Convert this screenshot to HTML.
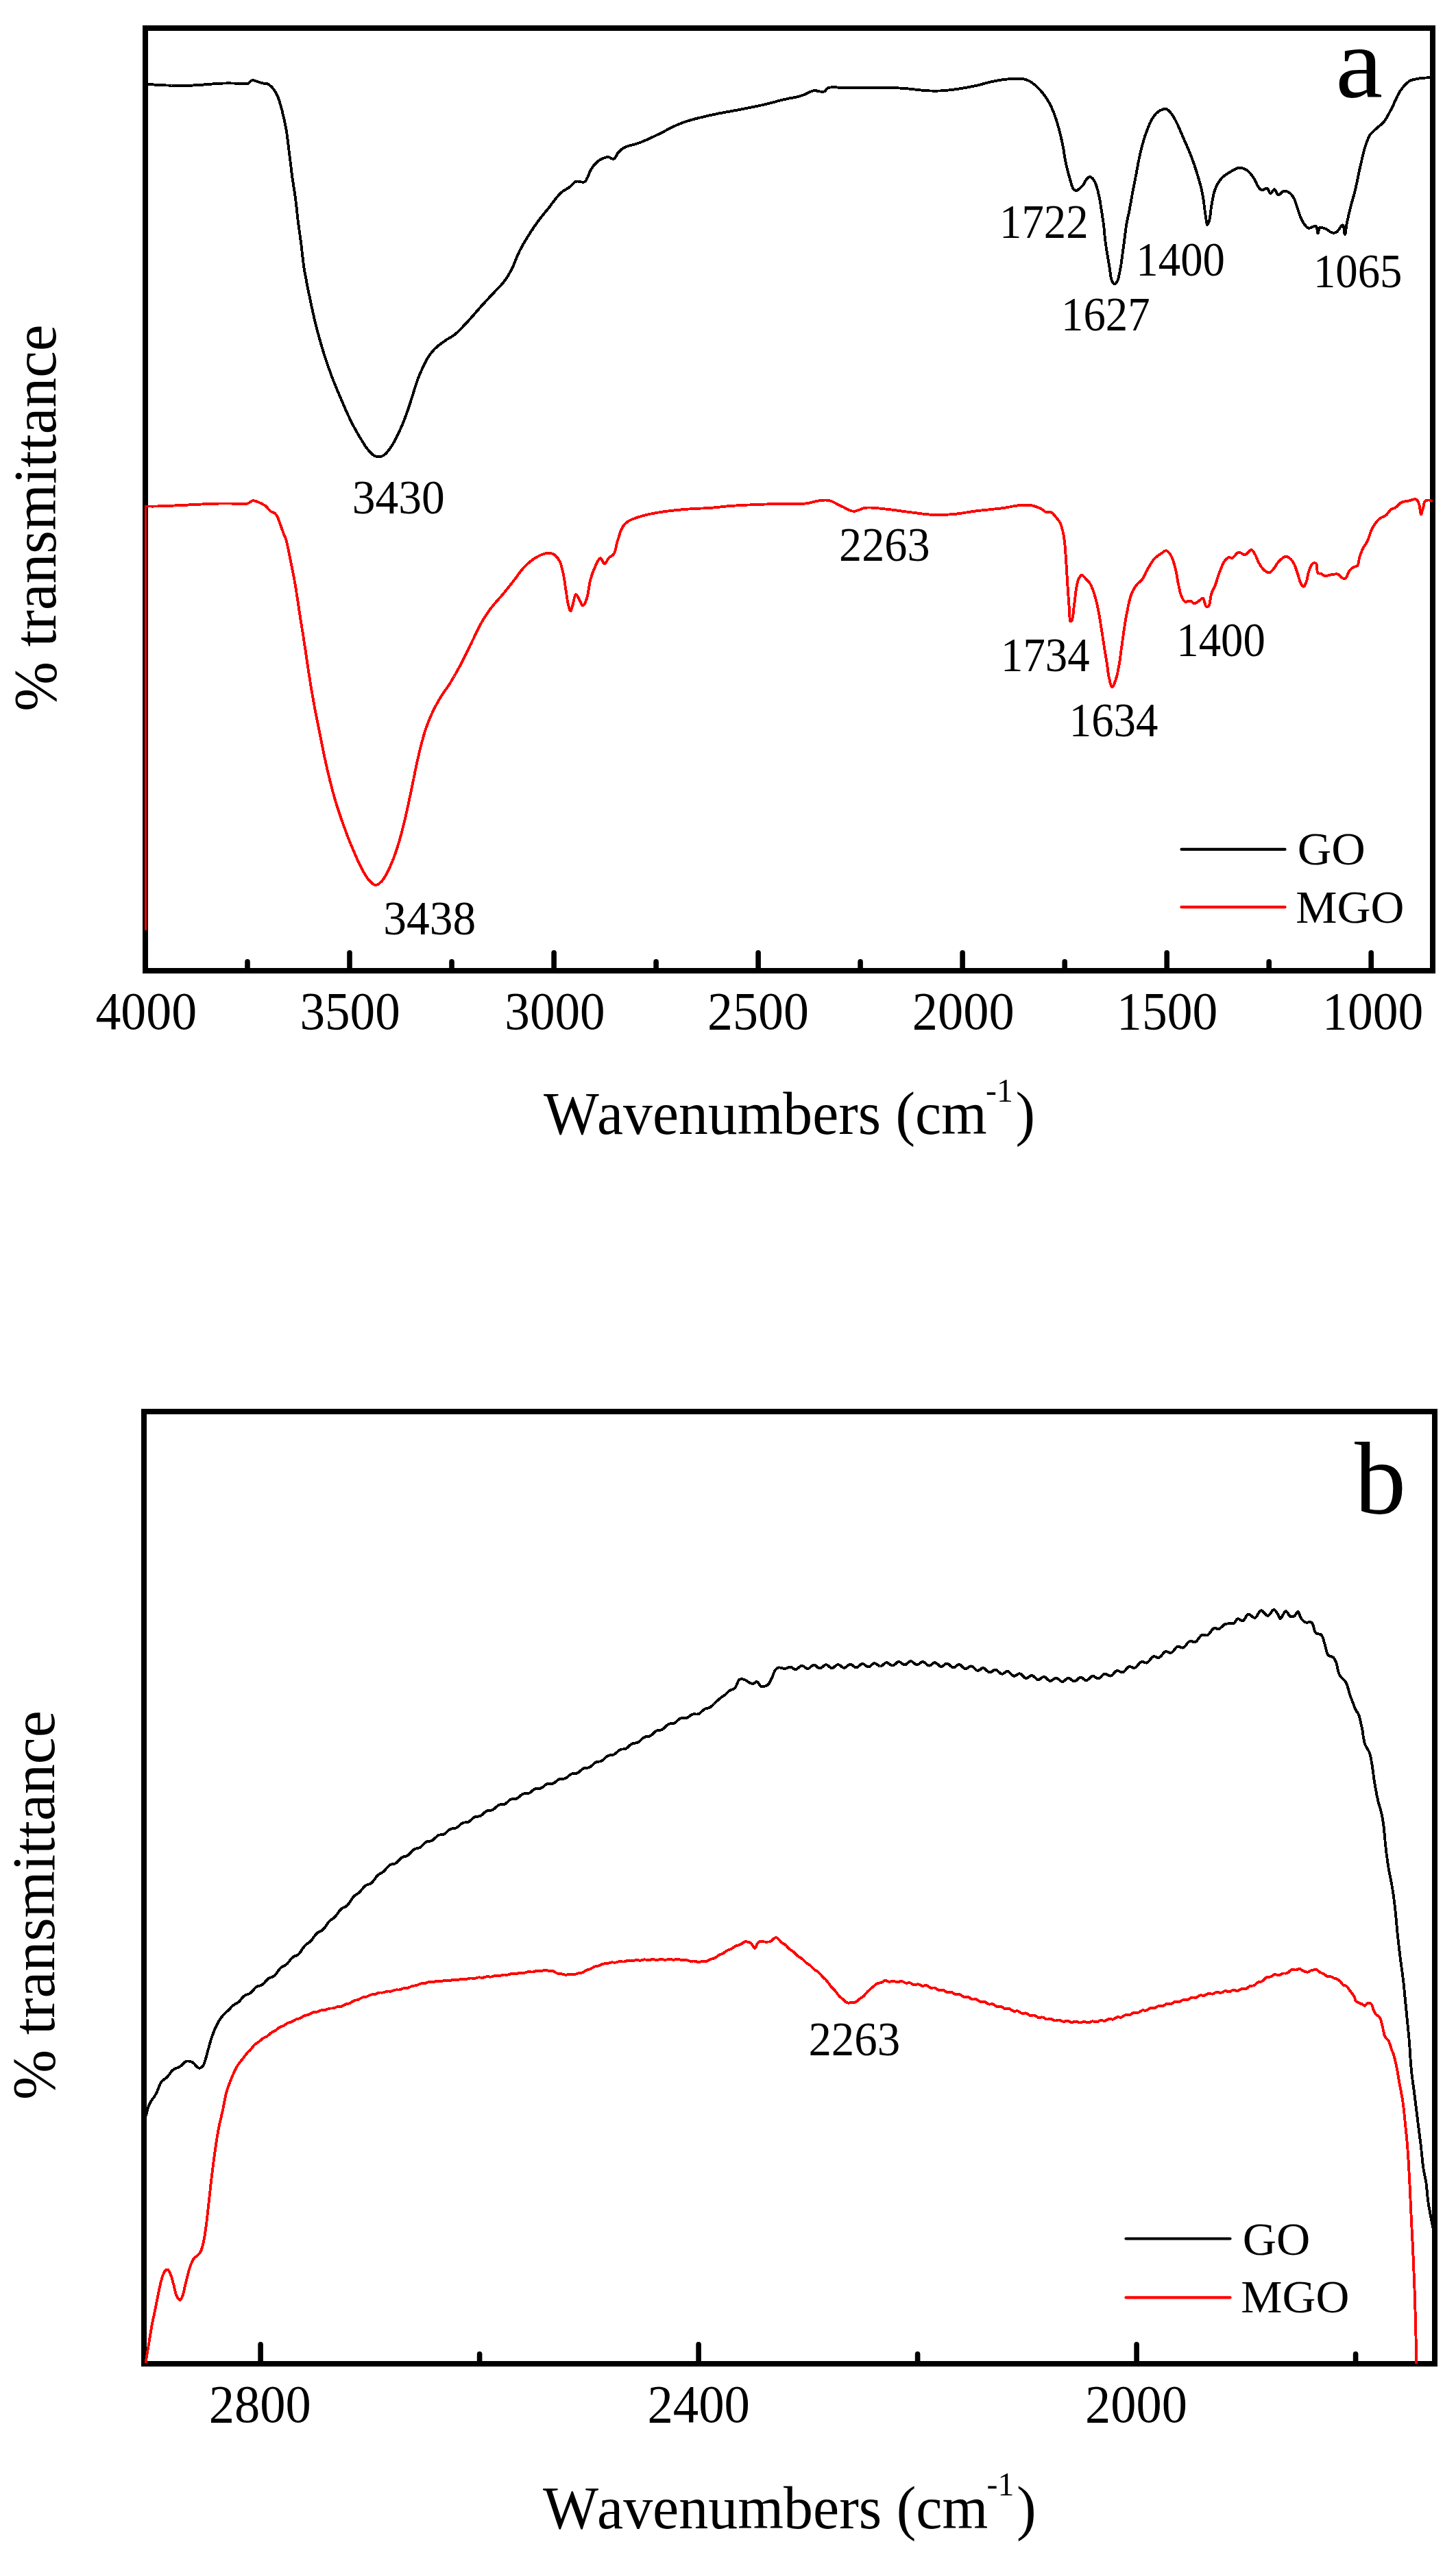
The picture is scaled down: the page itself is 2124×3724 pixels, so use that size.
<!DOCTYPE html><html><head><meta charset="utf-8"><title>FTIR spectra of GO and MGO</title>
<style>html,body{margin:0;padding:0;background:#fff}svg{display:block}text{font-family:"Liberation Serif","Times New Roman",serif;font-kerning:none;white-space:pre}</style></head><body>
<svg width="2124" height="3724" viewBox="0 0 2124 3724">
<rect width="2124" height="3724" fill="#fff"/>
<path d="M215.9 123.0L217.8 123.1L219.7 123.2L221.7 123.3L223.6 123.4L225.5 123.6L227.4 123.7L229.3 123.8L231.2 123.9L233.1 124.0L235.1 124.1L237.0 124.2L238.9 124.3L240.9 124.4L242.8 124.5L244.7 124.5L246.7 124.6L248.6 124.6L250.5 124.7L252.4 124.7L254.3 124.8L256.1 124.8L258.0 124.8L259.9 124.8L261.8 124.9L263.7 124.9L265.6 124.9L267.6 124.8L269.5 124.8L271.5 124.8L273.5 124.8L275.6 124.7L277.6 124.7L279.7 124.6L281.5 124.5L283.4 124.4L285.2 124.3L287.2 124.2L289.1 124.1L291.1 124.0L293.2 123.8L295.2 123.7L297.2 123.5L299.3 123.3L301.4 123.2L303.4 123.0L305.5 122.8L307.5 122.7L309.6 122.5L311.6 122.4L313.6 122.2L315.5 122.1L317.4 121.9L319.3 121.8L321.2 121.7L323.0 121.6L324.7 121.6L326.4 121.5L328.7 121.5L330.9 121.4L333.1 121.4L335.2 121.4L337.4 121.5L339.4 121.5L341.5 121.5L343.4 121.6L345.3 121.6L347.1 121.7L348.8 121.7L350.5 121.8L352.0 121.8L354.3 121.9L356.5 122.0L358.5 122.1L360.2 122.1L361.5 121.9L362.5 121.3L363.2 120.6L364.3 119.5L365.5 118.4L367.0 117.5L368.5 117.0L369.7 117.2L371.0 117.6L372.7 118.1L374.6 118.7L376.2 119.2L378.0 119.8L379.9 120.4L381.8 120.9L383.6 121.4L385.4 121.7L387.1 121.8L388.8 122.0L390.4 122.5L391.9 123.3L393.3 124.2L394.6 125.4L395.9 126.6L397.1 127.8L398.2 129.1L399.3 130.5L400.4 132.0L401.4 133.5L402.3 135.1L403.2 136.7L404.0 138.3L404.8 140.0L405.5 141.7L406.1 143.3L406.7 144.9L407.3 146.6L407.8 148.2L408.3 149.9L408.8 151.7L409.4 153.4L409.9 155.3L410.4 157.3L411.0 159.5L411.4 161.0L411.8 162.6L412.2 164.2L412.6 166.0L413.1 167.8L413.5 169.7L414.0 171.6L414.4 173.6L414.9 175.7L415.3 177.7L415.8 179.8L416.2 182.0L416.6 184.1L417.0 186.2L417.3 188.0L417.6 189.8L417.9 191.6L418.2 193.5L418.5 195.5L418.8 197.4L419.0 199.4L419.3 201.4L419.6 203.5L419.8 205.5L420.1 207.5L420.3 209.6L420.6 211.6L420.8 213.7L421.1 215.7L421.3 217.7L421.5 219.7L421.8 221.7L422.0 223.6L422.3 225.5L422.5 227.4L422.8 229.4L423.0 231.5L423.3 233.5L423.5 235.5L423.7 237.4L424.0 239.4L424.2 241.4L424.5 243.3L424.7 245.2L424.9 247.2L425.1 249.1L425.4 251.0L425.6 252.8L425.9 254.7L426.1 256.6L426.3 258.4L426.6 260.3L426.9 262.3L427.2 264.3L427.5 266.3L427.8 268.2L428.1 270.2L428.4 272.1L428.7 274.0L429.0 275.9L429.3 277.8L429.6 279.7L429.9 281.7L430.2 283.7L430.5 285.7L430.8 287.8L431.0 289.7L431.3 291.6L431.5 293.5L431.8 295.5L432.0 297.5L432.2 299.5L432.4 301.5L432.7 303.5L432.9 305.5L433.1 307.6L433.3 309.6L433.5 311.6L433.8 313.7L434.0 315.7L434.2 317.7L434.4 319.6L434.7 321.6L434.9 323.5L435.1 325.5L435.4 327.4L435.7 329.3L435.9 331.2L436.2 333.1L436.4 334.9L436.7 336.8L436.9 338.6L437.2 340.5L437.5 342.3L437.7 344.2L438.0 346.1L438.2 348.0L438.5 349.8L438.7 351.8L439.0 353.7L439.2 355.6L439.5 357.5L439.7 359.5L439.9 361.5L440.2 363.5L440.4 365.6L440.6 367.6L440.9 369.7L441.1 371.7L441.3 373.7L441.6 375.7L441.8 377.7L442.0 379.6L442.2 381.4L442.5 383.2L442.7 384.9L442.9 386.5L443.1 388.0L443.4 390.2L443.7 392.0L444.0 393.7L444.2 395.4L444.5 397.1L444.9 399.0L445.3 401.2L445.6 402.6L445.8 404.1L446.1 405.7L446.5 407.3L446.8 409.1L447.1 410.9L447.5 412.7L447.9 414.6L448.3 416.6L448.7 418.6L449.1 420.6L449.5 422.6L449.9 424.6L450.3 426.7L450.7 428.7L451.1 430.8L451.6 432.8L452.0 434.8L452.4 436.8L452.8 438.7L453.2 440.6L453.6 442.4L454.0 444.3L454.4 446.3L454.8 448.2L455.3 450.1L455.7 452.0L456.1 453.8L456.5 455.7L456.9 457.6L457.3 459.4L457.7 461.3L458.2 463.1L458.6 465.0L459.0 466.8L459.5 468.7L459.9 470.6L460.4 472.4L460.8 474.3L461.3 476.2L461.8 478.1L462.3 479.9L462.7 481.7L463.2 483.6L463.7 485.4L464.2 487.2L464.7 489.1L465.2 490.9L465.7 492.8L466.2 494.6L466.8 496.5L467.3 498.3L467.8 500.2L468.4 502.0L468.9 503.9L469.5 505.7L470.0 507.5L470.6 509.4L471.1 511.2L471.7 513.0L472.2 514.8L472.8 516.6L473.4 518.5L474.0 520.4L474.6 522.3L475.3 524.3L475.9 526.2L476.5 528.1L477.2 530.0L477.8 531.8L478.5 533.7L479.1 535.6L479.8 537.5L480.4 539.4L481.1 541.2L481.8 543.1L482.4 544.9L483.1 546.8L483.8 548.6L484.5 550.5L485.2 552.3L485.9 554.2L486.6 556.1L487.4 557.9L488.1 559.8L488.9 561.6L489.6 563.5L490.4 565.3L491.1 567.2L491.9 569.0L492.7 570.8L493.5 572.7L494.2 574.5L495.0 576.3L495.8 578.1L496.6 579.9L497.3 581.7L498.1 583.5L498.9 585.3L499.7 587.1L500.5 588.9L501.3 590.8L502.1 592.6L502.9 594.4L503.6 596.2L504.4 598.0L505.2 599.8L506.0 601.6L506.8 603.4L507.6 605.2L508.5 606.9L509.3 608.7L510.1 610.4L510.9 612.1L511.8 613.8L512.6 615.5L513.5 617.2L514.4 619.0L515.3 620.7L516.2 622.4L517.1 624.2L518.1 625.9L519.0 627.5L519.9 629.2L520.9 630.9L521.8 632.5L522.7 634.1L523.7 635.7L524.6 637.2L525.5 638.7L526.4 640.2L527.5 642.0L528.6 643.9L529.7 645.7L530.8 647.4L531.9 649.1L533.0 650.8L534.1 652.4L535.2 653.9L536.3 655.4L537.4 656.7L538.8 658.3L540.1 659.8L541.5 661.2L542.9 662.5L544.2 663.5L545.6 664.4L547.1 665.1L548.6 665.6L550.0 665.9L551.6 666.0L553.5 666.0L555.4 665.8L557.4 665.3L559.3 664.4L560.6 663.6L561.8 662.5L563.1 661.3L564.3 660.0L565.5 658.6L566.7 657.1L567.9 655.5L569.0 654.0L570.0 652.6L571.0 651.1L572.0 649.5L573.0 647.9L573.9 646.3L574.9 644.6L575.8 642.9L576.7 641.1L577.7 639.3L578.6 637.5L579.4 635.9L580.2 634.3L581.0 632.6L581.8 630.9L582.6 629.1L583.4 627.3L584.2 625.6L585.0 623.7L585.8 621.9L586.6 620.1L587.4 618.2L588.1 616.4L588.9 614.5L589.6 612.7L590.3 610.9L591.0 609.1L591.6 607.4L592.3 605.6L592.9 603.8L593.6 601.9L594.2 600.1L594.9 598.3L595.5 596.5L596.1 594.6L596.7 592.8L597.3 590.9L598.0 589.0L598.6 587.2L599.2 585.3L599.8 583.4L600.4 581.5L601.0 579.6L601.6 577.7L602.2 575.7L602.8 573.7L603.4 571.8L604.0 569.8L604.6 567.8L605.2 565.9L605.8 564.0L606.4 562.1L607.0 560.3L607.6 558.4L608.2 556.7L608.8 555.0L609.5 553.1L610.2 551.2L611.0 549.4L611.7 547.6L612.4 545.9L613.1 544.2L613.9 542.5L614.6 540.8L615.4 539.2L616.2 537.5L617.0 535.8L617.8 534.1L618.6 532.4L619.5 530.7L620.3 529.0L621.2 527.3L622.0 525.7L622.9 524.0L623.8 522.4L624.7 520.9L625.6 519.4L626.6 518.0L627.7 516.4L628.9 515.0L630.0 513.5L631.2 512.2L632.4 510.9L633.6 509.6L634.9 508.3L636.3 507.0L637.7 505.8L639.1 504.5L640.6 503.3L642.1 502.2L643.7 501.0L645.3 499.8L646.9 498.7L648.4 497.6L650.0 496.5L651.5 495.5L653.0 494.5L654.5 493.6L656.1 492.7L657.6 491.8L659.1 490.9L660.6 489.9L662.2 488.9L663.7 487.7L665.1 486.6L666.4 485.4L667.8 484.1L669.1 482.9L670.5 481.5L671.8 480.1L673.2 478.7L674.6 477.3L675.9 475.8L677.3 474.3L678.8 472.8L680.2 471.3L681.4 470.0L682.7 468.6L684.0 467.2L685.3 465.8L686.6 464.3L687.9 462.8L689.2 461.3L690.6 459.8L691.9 458.2L693.2 456.7L694.6 455.2L695.9 453.7L697.2 452.2L698.5 450.7L699.7 449.3L701.0 447.9L702.2 446.5L703.5 445.0L704.9 443.6L706.2 442.2L707.4 440.8L708.7 439.4L710.0 438.1L711.2 436.7L712.5 435.4L713.7 434.1L714.9 432.7L716.2 431.4L717.4 430.1L718.7 428.7L720.0 427.3L721.3 426.0L722.6 424.6L723.9 423.2L725.3 421.9L726.6 420.5L727.9 419.2L729.2 417.8L730.5 416.4L731.7 415.0L732.9 413.6L734.1 412.2L735.2 410.8L736.4 409.2L737.5 407.7L738.5 406.2L739.5 404.6L740.5 403.1L741.5 401.5L742.4 399.9L743.3 398.3L744.3 396.6L745.2 394.8L746.2 393.0L747.0 391.5L747.7 389.9L748.5 388.3L749.2 386.7L749.9 385.0L750.6 383.3L751.3 381.6L752.0 379.8L752.7 378.1L753.5 376.3L754.2 374.5L755.0 372.7L755.8 370.9L756.6 369.1L757.4 367.3L758.3 365.5L759.2 363.7L760.1 362.0L761.0 360.4L761.9 358.7L762.9 356.9L763.9 355.2L764.9 353.4L766.0 351.7L767.0 349.9L768.1 348.2L769.2 346.4L770.3 344.6L771.4 342.9L772.5 341.1L773.6 339.4L774.7 337.7L775.8 336.0L776.9 334.4L778.0 332.7L779.1 331.1L780.1 329.5L781.2 328.0L782.4 326.3L783.6 324.6L784.8 323.0L786.0 321.4L787.2 319.8L788.4 318.2L789.6 316.7L790.8 315.2L792.0 313.7L793.2 312.2L794.4 310.7L795.6 309.2L796.8 307.7L798.0 306.3L799.2 304.8L800.4 303.3L801.6 301.8L802.8 300.2L804.0 298.6L805.2 297.0L806.4 295.4L807.6 293.8L808.8 292.2L810.0 290.7L811.2 289.1L812.4 287.7L813.6 286.3L814.8 284.9L816.0 283.6L817.1 282.4L818.3 281.3L819.9 280.0L821.5 278.8L823.1 277.7L824.7 276.8L826.2 275.9L827.8 275.0L829.3 274.0L830.7 273.0L832.1 271.8L833.5 270.4L834.8 269.1L836.1 267.7L837.4 266.5L838.8 265.5L840.3 264.8L842.0 264.5L843.8 264.6L845.8 265.0L847.7 265.4L849.6 265.7L851.2 265.7L852.6 265.4L854.0 264.3L855.0 262.9L855.9 261.1L856.8 259.3L857.6 257.8L858.3 256.1L859.0 254.3L859.7 252.4L860.4 250.6L861.3 248.7L862.3 247.0L863.3 245.5L864.3 244.0L865.4 242.5L866.6 241.0L867.8 239.6L869.1 238.2L870.4 236.9L871.8 235.7L873.2 234.6L874.8 233.5L876.5 232.6L878.3 231.6L880.1 230.8L881.9 230.1L883.7 229.6L885.4 229.2L887.0 229.1L888.8 229.4L890.5 230.3L892.2 231.2L893.7 231.9L895.2 231.9L896.5 231.1L897.6 229.6L898.7 227.8L899.7 225.9L900.8 223.9L902.1 222.3L903.3 221.1L904.5 219.9L905.8 218.8L907.1 217.7L908.5 216.7L910.0 215.7L911.7 214.8L913.2 214.1L914.9 213.5L916.6 212.9L918.4 212.4L920.3 211.9L922.3 211.4L924.3 210.9L926.3 210.4L928.3 209.8L930.3 209.2L932.3 208.5L933.9 207.9L935.6 207.2L937.2 206.5L938.9 205.8L940.7 205.1L942.4 204.3L944.1 203.6L945.9 202.8L947.6 202.0L949.4 201.1L951.1 200.3L952.9 199.5L954.6 198.7L956.4 197.8L958.1 197.0L959.8 196.2L961.5 195.4L963.3 194.5L965.0 193.6L966.8 192.7L968.6 191.8L970.3 190.9L972.1 189.9L973.8 189.0L975.6 188.1L977.3 187.2L979.0 186.3L980.7 185.5L982.4 184.6L984.1 183.9L985.7 183.1L987.3 182.4L989.1 181.6L990.9 180.9L992.6 180.2L994.2 179.6L995.9 179.0L997.5 178.4L999.2 177.8L1000.9 177.3L1002.7 176.7L1004.5 176.1L1006.5 175.5L1008.1 175.0L1009.8 174.6L1011.5 174.1L1013.2 173.6L1015.0 173.1L1016.8 172.7L1018.7 172.2L1020.6 171.7L1022.5 171.3L1024.4 170.8L1026.4 170.3L1028.4 169.9L1030.3 169.4L1032.3 169.0L1034.3 168.5L1036.3 168.1L1038.3 167.7L1040.2 167.2L1042.2 166.8L1044.1 166.4L1046.0 166.0L1047.9 165.6L1049.9 165.2L1051.8 164.9L1053.8 164.5L1055.8 164.1L1057.8 163.8L1059.8 163.4L1061.8 163.1L1063.8 162.7L1065.8 162.4L1067.7 162.0L1069.7 161.6L1071.7 161.3L1073.7 160.9L1075.7 160.6L1077.6 160.2L1079.6 159.8L1081.5 159.5L1083.4 159.1L1085.4 158.7L1087.4 158.3L1089.4 157.9L1091.4 157.5L1093.4 157.1L1095.4 156.7L1097.4 156.3L1099.4 155.8L1101.3 155.4L1103.3 155.0L1105.2 154.6L1107.2 154.2L1109.1 153.8L1111.0 153.4L1112.8 152.9L1114.7 152.5L1116.5 152.1L1118.3 151.7L1120.0 151.3L1122.0 150.8L1124.0 150.3L1125.9 149.8L1127.8 149.3L1129.7 148.8L1131.5 148.3L1133.3 147.8L1135.1 147.3L1136.9 146.9L1138.7 146.4L1140.5 145.9L1142.3 145.4L1144.2 145.0L1146.1 144.6L1147.9 144.2L1149.8 143.8L1151.7 143.4L1153.6 143.1L1155.5 142.7L1157.4 142.4L1159.3 142.0L1161.2 141.6L1163.0 141.2L1164.8 140.8L1166.6 140.3L1168.4 139.8L1170.3 139.2L1172.3 138.4L1174.2 137.5L1176.2 136.6L1178.1 135.7L1180.0 134.8L1181.8 134.0L1183.5 133.3L1185.1 132.7L1186.6 132.2L1188.0 132.0L1189.7 132.1L1191.1 132.4L1192.5 132.9L1194.0 133.2L1195.8 133.4L1197.7 133.6L1199.7 133.7L1201.5 133.6L1203.1 133.2L1204.3 132.2L1205.1 130.9L1206.1 129.5L1207.6 128.4L1208.7 128.0L1210.0 127.7L1211.5 127.5L1213.1 127.4L1214.9 127.3L1216.7 127.3L1218.7 127.4L1220.8 127.4L1222.9 127.6L1225.1 127.7L1227.4 127.8L1229.7 128.0L1232.0 128.1L1234.2 128.2L1236.5 128.3L1238.7 128.4L1240.9 128.4L1242.7 128.4L1244.5 128.4L1246.4 128.3L1248.2 128.3L1250.2 128.3L1252.1 128.2L1254.1 128.2L1256.1 128.1L1258.1 128.1L1260.1 128.0L1262.1 128.0L1264.2 128.0L1266.2 127.9L1268.2 127.9L1270.3 127.8L1272.3 127.8L1274.3 127.8L1276.2 127.7L1278.2 127.7L1280.1 127.7L1282.0 127.7L1283.9 127.7L1285.7 127.7L1287.5 127.7L1289.2 127.7L1291.3 127.7L1293.3 127.8L1295.3 127.8L1297.3 127.9L1299.2 127.9L1301.1 128.0L1302.9 128.1L1304.8 128.1L1306.6 128.2L1308.5 128.3L1310.3 128.4L1312.1 128.5L1313.9 128.6L1315.8 128.7L1317.6 128.9L1319.5 129.0L1321.4 129.1L1323.3 129.3L1325.3 129.5L1327.2 129.7L1329.2 129.9L1331.2 130.1L1333.1 130.3L1335.1 130.6L1337.0 130.8L1338.9 131.0L1340.8 131.2L1342.7 131.4L1344.5 131.6L1346.3 131.7L1348.0 131.9L1349.7 132.0L1351.7 132.1L1353.6 132.3L1355.4 132.4L1357.1 132.5L1358.9 132.5L1360.6 132.6L1362.3 132.6L1364.1 132.6L1365.9 132.6L1367.8 132.6L1369.5 132.5L1371.3 132.5L1373.1 132.4L1374.9 132.3L1376.7 132.1L1378.6 132.0L1380.5 131.8L1382.3 131.6L1384.3 131.4L1386.2 131.2L1388.1 131.0L1390.0 130.7L1392.0 130.5L1393.8 130.3L1395.6 130.0L1397.5 129.7L1399.4 129.4L1401.3 129.1L1403.2 128.8L1405.2 128.5L1407.1 128.2L1409.1 127.8L1411.0 127.5L1412.9 127.1L1414.8 126.8L1416.7 126.4L1418.6 126.0L1420.4 125.7L1422.2 125.3L1424.2 124.9L1426.1 124.4L1428.0 124.0L1429.9 123.5L1431.8 123.0L1433.6 122.5L1435.5 122.0L1437.3 121.5L1439.2 121.0L1441.0 120.6L1442.8 120.1L1444.6 119.7L1446.4 119.3L1448.4 118.9L1450.3 118.5L1452.2 118.1L1454.1 117.7L1456.0 117.4L1457.9 117.0L1459.8 116.7L1461.7 116.4L1463.6 116.2L1465.5 115.9L1467.5 115.7L1469.3 115.5L1471.2 115.3L1473.2 115.2L1475.1 115.0L1477.1 114.9L1479.1 114.7L1481.1 114.6L1483.1 114.6L1485.0 114.6L1486.8 114.6L1488.5 114.7L1490.2 114.8L1491.7 115.0L1493.8 115.4L1495.6 115.9L1497.4 116.4L1499.0 117.1L1500.6 117.8L1502.3 118.7L1503.9 119.6L1505.4 120.6L1507.0 121.8L1508.5 123.0L1510.0 124.2L1511.5 125.5L1512.9 126.8L1514.3 128.1L1515.6 129.5L1517.0 130.9L1518.2 132.4L1519.5 133.9L1520.8 135.4L1522.0 137.0L1523.1 138.4L1524.1 139.8L1525.1 141.3L1526.2 142.8L1527.2 144.4L1528.2 145.9L1529.1 147.5L1530.1 149.1L1531.0 150.8L1531.9 152.4L1532.7 154.1L1533.5 155.8L1534.3 157.5L1535.1 159.3L1535.8 161.1L1536.6 162.9L1537.3 164.7L1538.0 166.5L1538.7 168.4L1539.3 170.1L1539.9 171.9L1540.5 173.6L1541.1 175.4L1541.6 177.3L1542.2 179.1L1542.7 180.9L1543.3 182.8L1543.8 184.7L1544.3 186.5L1544.8 188.4L1545.3 190.3L1545.8 192.1L1546.2 194.0L1546.7 195.8L1547.2 197.7L1547.6 199.6L1548.0 201.5L1548.5 203.4L1548.9 205.3L1549.3 207.2L1549.7 209.0L1550.1 210.9L1550.4 212.7L1550.8 214.5L1551.2 216.4L1551.5 218.2L1551.8 220.0L1552.0 221.7L1552.3 223.5L1552.5 225.2L1552.8 227.0L1553.1 228.8L1553.4 230.6L1553.7 232.4L1554.1 234.3L1554.5 236.1L1554.9 237.9L1555.3 239.9L1555.8 241.8L1556.2 243.8L1556.7 245.8L1557.2 247.7L1557.7 249.7L1558.2 251.7L1558.7 253.6L1559.2 255.5L1559.7 257.3L1560.2 259.0L1560.7 260.7L1561.3 262.7L1561.8 264.7L1562.4 266.7L1562.9 268.7L1563.5 270.5L1564.1 272.2L1564.7 273.7L1565.4 275.0L1566.2 276.0L1567.6 277.1L1569.0 277.7L1570.5 277.8L1572.0 277.3L1573.4 276.2L1574.9 275.0L1576.3 273.8L1577.7 272.5L1579.1 271.0L1580.4 269.5L1581.3 268.0L1582.2 266.4L1583.0 264.7L1583.8 263.1L1584.8 261.8L1586.0 260.5L1587.3 259.3L1588.6 258.3L1589.9 258.0L1591.4 258.5L1593.0 259.6L1594.5 261.2L1595.8 262.9L1596.7 264.4L1597.6 266.1L1598.3 267.9L1598.9 269.9L1599.6 271.8L1600.2 273.8L1600.8 275.6L1601.3 277.4L1601.7 279.2L1602.2 281.1L1602.6 283.0L1603.1 285.0L1603.5 287.0L1603.8 288.6L1604.1 290.3L1604.5 292.1L1604.8 293.9L1605.1 295.7L1605.4 297.5L1605.6 299.3L1605.9 301.2L1606.2 303.1L1606.5 304.9L1606.8 306.8L1607.1 308.6L1607.4 310.4L1607.7 312.2L1608.0 314.0L1608.2 315.9L1608.5 317.7L1608.8 319.6L1609.1 321.4L1609.4 323.3L1609.6 325.1L1609.9 327.0L1610.1 328.8L1610.3 330.6L1610.5 332.5L1610.7 334.3L1610.9 336.1L1611.0 338.0L1611.2 339.8L1611.4 341.6L1611.5 343.5L1611.7 345.3L1611.9 347.1L1612.1 349.0L1612.3 350.8L1612.5 352.6L1612.8 354.5L1613.0 356.3L1613.3 358.2L1613.6 360.0L1613.9 361.8L1614.2 363.7L1614.4 365.5L1614.7 367.3L1615.0 369.1L1615.3 370.9L1615.6 372.7L1615.9 374.5L1616.2 376.4L1616.5 378.2L1616.8 380.0L1617.1 381.8L1617.4 383.6L1617.7 385.4L1618.0 387.2L1618.3 389.0L1618.6 390.7L1618.9 392.5L1619.2 394.6L1619.5 396.7L1619.8 398.9L1620.1 401.1L1620.4 403.2L1620.8 405.2L1621.2 407.1L1621.6 408.7L1622.2 410.1L1623.4 412.2L1624.8 413.9L1626.2 414.5L1627.5 413.8L1628.7 412.2L1629.9 410.1L1630.5 408.9L1631.0 407.5L1631.5 405.9L1631.9 404.2L1632.3 402.4L1632.7 400.5L1633.1 398.5L1633.5 396.5L1633.9 394.5L1634.3 392.5L1634.6 390.8L1634.9 389.1L1635.2 387.3L1635.5 385.5L1635.8 383.6L1636.1 381.7L1636.3 379.7L1636.6 377.8L1636.9 375.8L1637.1 373.8L1637.4 371.8L1637.6 369.8L1637.9 367.8L1638.2 365.8L1638.4 363.8L1638.7 361.8L1639.0 359.9L1639.2 357.9L1639.5 356.0L1639.7 354.0L1640.0 352.0L1640.2 350.0L1640.5 348.0L1640.7 346.0L1641.0 344.0L1641.2 342.0L1641.5 340.0L1641.7 338.0L1642.0 336.1L1642.3 334.2L1642.5 332.4L1642.8 330.6L1643.1 328.8L1643.4 326.8L1643.8 324.9L1644.2 323.0L1644.5 321.2L1644.9 319.4L1645.3 317.6L1645.6 315.8L1646.0 314.0L1646.4 312.3L1646.8 310.5L1647.1 308.7L1647.5 306.8L1647.8 305.0L1648.2 303.2L1648.5 301.3L1648.8 299.5L1649.2 297.7L1649.5 295.8L1649.8 294.0L1650.2 292.1L1650.5 290.2L1650.8 288.3L1651.2 286.4L1651.5 284.5L1651.9 282.6L1652.2 280.8L1652.6 278.9L1652.9 277.1L1653.3 275.2L1653.7 273.3L1654.0 271.5L1654.4 269.6L1654.7 267.7L1655.1 265.8L1655.5 263.8L1655.9 261.9L1656.2 260.0L1656.6 258.0L1657.0 256.1L1657.4 254.1L1657.8 252.2L1658.1 250.3L1658.5 248.4L1658.9 246.4L1659.2 244.4L1659.6 242.5L1660.0 240.5L1660.3 238.5L1660.7 236.5L1661.1 234.5L1661.5 232.6L1661.9 230.6L1662.3 228.6L1662.7 226.7L1663.1 224.8L1663.6 222.9L1664.0 221.1L1664.5 219.1L1665.0 217.1L1665.5 215.2L1666.0 213.3L1666.5 211.4L1667.0 209.5L1667.5 207.6L1668.0 205.7L1668.6 203.9L1669.1 202.0L1669.7 200.2L1670.3 198.3L1670.9 196.5L1671.6 194.7L1672.3 192.9L1673.0 191.0L1673.7 189.2L1674.4 187.3L1675.2 185.4L1676.0 183.5L1676.7 181.6L1677.5 179.8L1678.4 178.1L1679.2 176.4L1680.0 174.8L1680.9 173.2L1681.7 171.8L1682.6 170.5L1683.8 168.9L1685.0 167.4L1686.2 166.0L1687.4 164.8L1688.7 163.7L1690.0 162.7L1691.4 161.8L1693.0 160.9L1694.7 160.2L1696.4 159.5L1698.1 159.1L1699.8 158.9L1701.3 159.1L1702.7 159.7L1704.1 160.6L1705.4 161.8L1706.6 163.2L1707.8 164.7L1709.0 166.2L1710.1 167.6L1711.1 169.1L1712.0 170.6L1713.0 172.3L1713.9 174.0L1714.9 175.7L1715.8 177.5L1716.7 179.3L1717.5 180.9L1718.3 182.5L1719.0 184.2L1719.8 185.9L1720.5 187.6L1721.2 189.4L1722.0 191.2L1722.7 193.0L1723.6 194.9L1724.4 196.9L1725.1 198.5L1725.8 200.1L1726.6 201.8L1727.3 203.5L1728.1 205.3L1728.9 207.1L1729.7 208.9L1730.5 210.7L1731.3 212.6L1732.2 214.5L1733.0 216.4L1733.8 218.3L1734.6 220.2L1735.4 222.1L1736.1 224.0L1736.9 225.8L1737.6 227.7L1738.3 229.5L1739.0 231.3L1739.6 233.2L1740.3 235.0L1741.0 236.9L1741.6 238.8L1742.3 240.7L1742.9 242.6L1743.5 244.5L1744.2 246.4L1744.8 248.3L1745.4 250.1L1745.9 252.0L1746.5 253.8L1747.1 255.6L1747.6 257.3L1748.1 259.0L1748.6 260.7L1749.2 262.7L1749.7 264.5L1750.2 266.4L1750.7 268.2L1751.2 269.9L1751.6 271.7L1752.1 273.4L1752.5 275.2L1752.9 276.9L1753.3 278.8L1753.7 280.6L1754.1 282.6L1754.4 284.4L1754.8 286.3L1755.1 288.2L1755.4 290.2L1755.7 292.2L1755.9 294.3L1756.2 296.3L1756.5 298.4L1756.7 300.4L1757.0 302.5L1757.2 304.5L1757.5 306.4L1757.7 308.3L1758.0 310.1L1758.2 311.8L1758.5 313.4L1758.8 315.6L1759.2 318.0L1759.5 320.4L1759.8 322.6L1760.1 324.6L1760.5 326.2L1760.9 327.3L1761.3 327.7L1761.9 327.2L1762.6 325.9L1763.4 324.1L1764.0 322.2L1764.4 320.9L1764.7 319.4L1765.0 317.8L1765.2 316.0L1765.5 314.1L1765.7 312.2L1765.9 310.2L1766.2 308.2L1766.4 306.1L1766.7 304.1L1767.0 302.1L1767.3 300.2L1767.6 298.4L1768.0 296.5L1768.3 294.5L1768.6 292.6L1769.0 290.7L1769.3 288.7L1769.7 286.8L1770.1 284.9L1770.6 283.0L1771.0 281.2L1771.5 279.4L1772.1 277.6L1772.7 276.0L1773.5 274.1L1774.3 272.2L1775.2 270.4L1776.1 268.6L1777.0 266.9L1778.1 265.2L1779.1 263.7L1780.3 262.1L1781.5 260.7L1782.8 259.4L1784.1 258.1L1785.5 256.9L1787.0 255.8L1788.5 254.7L1790.1 253.7L1791.6 252.7L1793.2 251.7L1794.7 250.8L1796.3 249.8L1797.9 248.8L1799.5 247.9L1801.2 247.0L1802.8 246.2L1804.4 245.5L1806.0 245.0L1807.6 244.8L1809.5 244.8L1811.4 245.1L1813.3 245.6L1815.1 246.3L1816.9 247.1L1818.6 248.1L1820.0 249.1L1821.3 250.2L1822.6 251.5L1823.9 253.0L1825.1 254.4L1826.3 256.0L1827.4 257.5L1828.5 259.1L1829.5 260.6L1830.4 262.3L1831.2 264.0L1832.1 265.8L1832.9 267.6L1833.7 269.3L1834.5 270.8L1835.3 272.2L1836.2 273.4L1837.5 274.8L1838.8 276.1L1840.2 277.0L1841.6 277.4L1843.2 277.0L1845.0 275.8L1846.7 274.8L1848.2 274.5L1849.4 275.5L1850.4 277.4L1851.3 279.6L1852.2 281.4L1853.3 282.2L1854.4 281.6L1855.6 280.2L1856.8 278.4L1858.1 276.9L1859.2 276.3L1860.3 277.2L1861.4 279.1L1862.4 281.4L1863.5 283.4L1864.7 284.4L1866.1 284.0L1867.6 282.8L1869.2 281.2L1870.8 279.7L1872.4 278.9L1874.1 278.7L1875.7 278.9L1877.4 279.3L1879.0 280.0L1880.4 280.8L1881.7 281.9L1883.1 283.2L1884.4 284.6L1885.6 286.1L1886.7 287.7L1887.6 289.2L1888.4 290.9L1889.1 292.7L1889.8 294.5L1890.4 296.4L1891.0 298.3L1891.6 300.2L1892.2 302.0L1892.9 303.9L1893.5 305.8L1894.1 307.8L1894.7 309.7L1895.3 311.6L1895.9 313.4L1896.6 315.2L1897.3 316.9L1898.0 318.6L1898.7 320.2L1899.5 321.8L1900.3 323.4L1901.2 324.8L1902.1 326.2L1903.3 327.8L1904.5 329.4L1905.7 330.8L1907.1 332.0L1908.7 332.7L1910.4 332.7L1912.4 332.1L1914.5 331.2L1916.5 330.4L1918.3 329.9L1919.7 330.1L1920.6 331.3L1921.2 333.4L1921.6 335.7L1921.8 338.0L1922.1 339.7L1922.5 340.4L1922.9 339.7L1923.3 337.9L1923.7 335.6L1924.3 333.6L1925.2 332.3L1926.6 331.9L1928.3 332.0L1930.2 332.5L1932.2 333.1L1934.0 333.8L1935.5 334.6L1937.0 335.6L1938.4 336.7L1939.9 337.8L1941.3 338.7L1942.7 339.3L1944.4 339.6L1946.0 339.7L1947.7 339.5L1949.3 338.9L1950.5 338.0L1951.8 336.5L1953.2 334.8L1954.5 332.9L1955.7 331.1L1956.9 329.6L1957.9 328.6L1958.8 328.4L1959.6 329.3L1960.2 331.3L1960.6 334.0L1960.9 336.8L1961.2 339.4L1961.5 341.3L1961.9 342.0L1962.2 341.6L1962.5 340.7L1962.8 339.2L1963.1 337.3L1963.4 335.2L1963.7 332.9L1964.0 330.5L1964.3 328.3L1964.7 326.2L1965.0 324.5L1965.4 322.8L1965.8 321.0L1966.2 319.1L1966.6 317.3L1967.0 315.4L1967.5 313.4L1967.9 311.5L1968.4 309.6L1968.8 307.7L1969.3 305.8L1969.7 303.9L1970.2 302.0L1970.7 300.1L1971.2 298.3L1971.7 296.5L1972.2 294.6L1972.7 292.8L1973.2 291.0L1973.7 289.2L1974.3 287.3L1974.8 285.5L1975.3 283.6L1975.8 281.7L1976.3 279.8L1976.8 277.8L1977.2 276.0L1977.7 274.1L1978.1 272.3L1978.5 270.4L1978.9 268.5L1979.3 266.6L1979.7 264.7L1980.1 262.8L1980.5 260.8L1980.8 258.9L1981.3 256.9L1981.7 254.9L1982.1 252.9L1982.5 251.0L1982.9 249.0L1983.4 247.0L1983.8 245.2L1984.2 243.3L1984.7 241.4L1985.1 239.5L1985.6 237.5L1986.0 235.6L1986.5 233.6L1986.9 231.6L1987.4 229.6L1987.9 227.7L1988.3 225.7L1988.8 223.8L1989.3 222.0L1989.8 220.1L1990.2 218.4L1990.7 216.6L1991.2 215.0L1991.7 213.4L1992.2 211.9L1992.9 209.9L1993.6 207.9L1994.2 206.1L1994.9 204.3L1995.6 202.6L1996.3 201.0L1997.1 199.4L1997.9 197.9L1998.8 196.5L1999.9 195.0L2001.1 193.7L2002.3 192.5L2003.6 191.3L2004.9 190.1L2006.3 188.9L2007.6 187.7L2008.9 186.5L2010.3 185.4L2011.7 184.2L2013.1 183.1L2014.5 181.9L2015.9 180.6L2017.3 179.3L2018.6 177.8L2019.7 176.4L2020.8 174.9L2021.8 173.3L2022.8 171.7L2023.8 170.0L2024.7 168.3L2025.7 166.5L2026.7 164.7L2027.6 162.8L2028.6 161.0L2029.6 159.1L2030.5 157.5L2031.3 155.8L2032.1 154.0L2033.0 152.2L2033.8 150.3L2034.7 148.4L2035.5 146.5L2036.3 144.7L2037.2 142.8L2038.1 141.0L2038.9 139.2L2039.9 137.4L2040.8 135.8L2041.7 134.2L2042.7 132.7L2043.9 131.0L2045.1 129.3L2046.4 127.6L2047.7 126.1L2049.0 124.5L2050.3 123.1L2051.7 121.8L2053.1 120.6L2054.5 119.5L2055.9 118.5L2057.7 117.5L2059.5 116.8L2061.3 116.2L2063.2 115.8L2065.1 115.4L2067.1 115.1L2069.1 114.7L2070.9 114.4L2072.7 114.1L2074.6 113.9L2076.5 113.8L2078.4 113.6L2080.3 113.5L2082.2 113.3L2084.1 113.2L2086.0 113.0" fill="none" stroke="#000" stroke-width="3.9" stroke-linejoin="round" shape-rendering="crispEdges"/>
<rect x="212" y="41" width="1878" height="1375" fill="none" stroke="#000" stroke-width="8"/>
<line x1="212.5" y1="1357" x2="212.5" y2="737" stroke="#f00" stroke-width="3" shape-rendering="crispEdges"/>
<path d="M212.4 738.5L214.2 738.5L216.0 738.5L217.8 738.5L219.6 738.5L221.4 738.6L223.3 738.6L225.3 738.5L227.5 738.5L229.1 738.5L230.8 738.4L232.5 738.4L234.3 738.3L236.1 738.3L238.0 738.2L240.0 738.1L242.0 738.0L244.0 737.9L246.0 737.9L248.1 737.8L250.2 737.7L252.4 737.6L254.5 737.5L256.7 737.4L258.9 737.3L261.0 737.2L263.2 737.1L265.0 737.0L266.8 736.9L268.6 736.8L270.5 736.8L272.4 736.7L274.3 736.5L276.3 736.4L278.2 736.3L280.2 736.2L282.2 736.1L284.2 736.0L286.2 735.9L288.2 735.8L290.3 735.7L292.3 735.6L294.3 735.5L296.3 735.4L298.3 735.3L300.3 735.2L302.3 735.1L304.2 735.0L306.2 734.9L308.1 734.8L310.0 734.8L311.8 734.7L313.6 734.6L315.4 734.6L317.5 734.6L319.7 734.5L321.8 734.5L324.0 734.5L326.1 734.5L328.3 734.5L330.5 734.5L332.6 734.5L334.7 734.5L336.7 734.5L338.7 734.6L340.7 734.6L342.6 734.6L344.4 734.6L346.1 734.7L347.7 734.7L349.3 734.7L350.7 734.7L352.0 734.7L354.2 734.7L356.1 734.8L357.8 734.9L359.3 734.9L360.5 734.7L361.6 734.3L362.5 733.8L363.4 733.3L364.3 732.7L365.6 731.8L367.1 730.9L368.5 730.3L369.8 730.3L371.0 730.6L372.4 730.9L374.0 731.3L375.4 731.8L376.9 732.5L378.5 733.2L380.1 734.0L381.6 734.7L383.1 735.5L384.7 736.3L386.2 737.2L387.7 738.2L388.9 739.3L390.1 740.6L391.2 742.0L392.3 743.4L393.4 744.6L394.6 745.7L396.3 746.7L398.1 747.4L399.9 748.1L401.4 749.1L402.5 750.3L403.4 751.6L404.2 753.1L404.9 754.6L405.7 756.2L406.3 758.0L407.0 759.7L407.6 761.5L408.2 763.0L408.7 764.5L409.3 766.0L409.8 767.5L410.4 769.1L410.9 770.6L411.5 772.3L412.1 773.9L412.6 775.5L413.2 777.1L413.8 778.7L414.4 780.2L415.1 781.6L415.7 783.0L416.3 784.6L417.0 786.5L417.4 787.8L417.8 789.2L418.2 790.8L418.6 792.4L419.0 794.1L419.4 796.0L419.8 797.9L420.2 799.8L420.6 801.8L421.0 803.9L421.5 805.9L421.9 808.0L422.3 810.1L422.7 812.1L423.1 814.2L423.5 816.2L423.9 818.1L424.3 819.9L424.6 821.7L425.0 823.6L425.4 825.4L425.8 827.2L426.1 829.1L426.5 830.9L426.9 832.8L427.2 834.6L427.6 836.5L428.0 838.4L428.3 840.3L428.7 842.2L429.0 844.1L429.4 846.0L429.8 847.9L430.1 849.9L430.5 851.8L430.8 853.8L431.1 855.6L431.4 857.5L431.7 859.3L432.0 861.2L432.3 863.1L432.6 864.9L432.9 866.8L433.2 868.8L433.5 870.7L433.8 872.6L434.1 874.5L434.4 876.5L434.7 878.4L435.0 880.4L435.3 882.3L435.6 884.3L435.8 886.2L436.1 888.1L436.4 890.1L436.7 892.0L437.0 894.0L437.3 895.9L437.6 897.8L437.9 899.7L438.2 901.6L438.5 903.6L438.8 905.5L439.1 907.4L439.4 909.4L439.7 911.3L440.0 913.2L440.3 915.2L440.6 917.1L440.9 919.0L441.2 921.0L441.6 922.9L441.9 924.8L442.2 926.7L442.5 928.6L442.8 930.5L443.1 932.4L443.3 934.3L443.6 936.2L443.9 938.1L444.2 939.9L444.5 941.8L444.8 943.8L445.1 945.7L445.4 947.6L445.7 949.5L445.9 951.4L446.2 953.3L446.5 955.2L446.8 957.0L447.0 958.9L447.3 960.8L447.6 962.6L447.8 964.5L448.1 966.4L448.4 968.3L448.7 970.2L449.0 972.1L449.3 974.0L449.6 976.0L449.9 978.0L450.2 980.0L450.5 981.8L450.8 983.6L451.1 985.5L451.4 987.3L451.7 989.2L452.0 991.1L452.3 993.0L452.6 994.9L452.9 996.8L453.2 998.8L453.5 1000.7L453.9 1002.7L454.2 1004.6L454.5 1006.6L454.8 1008.6L455.2 1010.5L455.5 1012.5L455.8 1014.4L456.2 1016.3L456.5 1018.3L456.8 1020.2L457.2 1022.1L457.5 1024.0L457.8 1025.8L458.2 1027.7L458.5 1029.5L458.9 1031.5L459.2 1033.4L459.6 1035.3L459.9 1037.2L460.3 1039.1L460.7 1040.9L461.0 1042.8L461.4 1044.7L461.8 1046.5L462.1 1048.3L462.5 1050.2L462.9 1052.0L463.3 1053.9L463.6 1055.7L464.0 1057.5L464.4 1059.4L464.8 1061.2L465.2 1063.1L465.5 1065.0L465.9 1066.9L466.3 1068.8L466.7 1070.7L467.1 1072.6L467.5 1074.5L467.8 1076.4L468.2 1078.3L468.6 1080.3L469.0 1082.2L469.4 1084.2L469.8 1086.1L470.2 1088.1L470.6 1090.0L470.9 1092.0L471.3 1094.0L471.7 1095.9L472.1 1097.9L472.5 1099.9L472.9 1101.8L473.3 1103.8L473.8 1105.8L474.2 1107.7L474.6 1109.7L475.0 1111.6L475.4 1113.6L475.9 1115.5L476.3 1117.4L476.7 1119.3L477.2 1121.3L477.6 1123.2L478.1 1125.2L478.5 1127.1L479.0 1129.0L479.5 1131.0L479.9 1132.9L480.4 1134.8L480.9 1136.8L481.3 1138.7L481.8 1140.6L482.3 1142.5L482.8 1144.4L483.2 1146.3L483.7 1148.2L484.2 1150.1L484.7 1152.0L485.2 1153.9L485.7 1155.7L486.3 1157.6L486.8 1159.5L487.3 1161.3L487.8 1163.2L488.4 1165.1L489.0 1167.0L489.5 1168.8L490.1 1170.7L490.7 1172.6L491.2 1174.4L491.8 1176.3L492.4 1178.1L493.0 1179.9L493.6 1181.8L494.2 1183.6L494.8 1185.4L495.4 1187.2L496.0 1189.0L496.6 1190.8L497.2 1192.6L497.8 1194.4L498.4 1196.2L499.1 1198.0L499.7 1199.8L500.3 1201.6L501.0 1203.5L501.7 1205.3L502.3 1207.1L503.0 1208.9L503.7 1210.7L504.3 1212.6L505.0 1214.4L505.7 1216.2L506.4 1218.0L507.1 1219.8L507.8 1221.5L508.5 1223.3L509.2 1225.1L509.9 1226.9L510.6 1228.6L511.3 1230.3L512.0 1232.1L512.7 1233.8L513.4 1235.5L514.2 1237.4L515.0 1239.2L515.8 1241.1L516.6 1243.0L517.4 1244.9L518.2 1246.7L519.0 1248.6L519.8 1250.4L520.6 1252.2L521.4 1254.0L522.2 1255.8L523.0 1257.5L523.8 1259.2L524.7 1260.9L525.5 1262.6L526.3 1264.2L527.1 1265.7L528.1 1267.6L529.1 1269.4L530.0 1271.2L531.0 1273.0L532.0 1274.7L533.0 1276.4L534.0 1278.0L535.0 1279.5L536.0 1281.0L537.0 1282.3L538.1 1283.6L539.4 1285.1L540.8 1286.5L542.2 1287.9L543.5 1289.1L544.9 1290.0L546.3 1290.7L547.7 1291.0L549.4 1290.8L551.1 1290.2L552.7 1289.1L554.4 1287.8L556.0 1286.3L557.1 1285.2L558.1 1283.9L559.2 1282.5L560.2 1281.0L561.2 1279.4L562.2 1277.6L563.2 1275.9L564.2 1274.1L565.1 1272.2L566.1 1270.3L567.0 1268.5L567.8 1266.9L568.6 1265.2L569.4 1263.5L570.1 1261.7L570.9 1260.0L571.7 1258.1L572.4 1256.3L573.1 1254.4L573.9 1252.5L574.6 1250.6L575.3 1248.7L576.0 1246.8L576.7 1244.9L577.3 1242.9L578.0 1241.0L578.6 1239.3L579.2 1237.5L579.8 1235.7L580.3 1233.9L580.9 1232.1L581.4 1230.3L582.0 1228.5L582.5 1226.7L583.0 1224.8L583.6 1223.0L584.1 1221.1L584.6 1219.2L585.1 1217.4L585.6 1215.5L586.1 1213.6L586.6 1211.8L587.1 1209.9L587.6 1208.0L588.1 1206.2L588.5 1204.3L589.0 1202.4L589.5 1200.6L589.9 1198.7L590.4 1196.8L590.8 1194.9L591.2 1193.0L591.7 1191.1L592.1 1189.2L592.5 1187.3L592.9 1185.4L593.3 1183.5L593.8 1181.6L594.2 1179.8L594.6 1177.9L595.0 1176.0L595.4 1174.1L595.8 1172.3L596.2 1170.3L596.7 1168.4L597.1 1166.4L597.5 1164.5L597.9 1162.6L598.3 1160.7L598.7 1158.7L599.1 1156.8L599.5 1154.9L599.9 1153.0L600.3 1151.1L600.7 1149.2L601.1 1147.2L601.5 1145.3L601.9 1143.3L602.3 1141.3L602.7 1139.3L603.1 1137.4L603.5 1135.6L603.9 1133.7L604.3 1131.8L604.7 1129.9L605.0 1127.9L605.4 1126.0L605.8 1124.1L606.2 1122.1L606.6 1120.2L607.0 1118.2L607.5 1116.3L607.9 1114.3L608.3 1112.4L608.7 1110.5L609.1 1108.5L609.6 1106.6L610.0 1104.7L610.5 1102.8L610.9 1100.9L611.4 1099.0L611.8 1097.1L612.3 1095.1L612.8 1093.2L613.2 1091.3L613.7 1089.3L614.2 1087.4L614.7 1085.5L615.2 1083.6L615.7 1081.7L616.2 1079.8L616.7 1077.9L617.2 1076.0L617.7 1074.2L618.3 1072.3L618.8 1070.5L619.4 1068.7L619.9 1067.0L620.5 1065.2L621.2 1063.2L621.8 1061.3L622.5 1059.4L623.2 1057.5L623.9 1055.6L624.6 1053.8L625.3 1052.0L626.0 1050.1L626.8 1048.3L627.5 1046.5L628.3 1044.8L629.1 1043.0L629.9 1041.2L630.7 1039.5L631.5 1037.7L632.3 1036.0L633.2 1034.2L634.1 1032.5L635.0 1030.8L635.9 1029.0L636.9 1027.3L637.8 1025.6L638.8 1023.9L639.7 1022.2L640.7 1020.6L641.6 1019.0L642.6 1017.4L643.5 1015.9L644.4 1014.4L645.3 1013.0L646.4 1011.3L647.5 1009.6L648.6 1008.1L649.6 1006.6L650.7 1005.2L651.8 1003.7L652.8 1002.2L654.0 1000.6L655.1 998.8L656.0 997.4L656.9 996.0L657.8 994.5L658.7 992.9L659.6 991.4L660.6 989.8L661.5 988.1L662.5 986.5L663.5 984.8L664.4 983.1L665.4 981.4L666.4 979.7L667.3 977.9L668.3 976.2L669.3 974.4L670.2 972.7L671.1 971.1L671.9 969.4L672.8 967.7L673.7 966.1L674.6 964.3L675.4 962.6L676.3 960.9L677.2 959.2L678.0 957.4L678.9 955.6L679.8 953.9L680.6 952.1L681.5 950.3L682.4 948.6L683.2 946.8L684.1 945.0L685.0 943.3L685.8 941.5L686.7 939.8L687.6 938.1L688.4 936.3L689.3 934.5L690.2 932.7L691.0 930.9L691.9 929.1L692.8 927.3L693.6 925.5L694.5 923.7L695.4 921.9L696.2 920.1L697.1 918.3L698.0 916.6L698.8 914.9L699.7 913.2L700.6 911.5L701.5 909.9L702.3 908.3L703.2 906.8L704.2 905.0L705.3 903.3L706.3 901.6L707.3 900.0L708.3 898.4L709.4 896.8L710.4 895.3L711.4 893.7L712.5 892.2L713.6 890.7L714.6 889.2L715.8 887.7L716.9 886.2L718.1 884.7L719.3 883.2L720.5 881.7L721.8 880.2L723.1 878.7L724.4 877.3L725.7 875.8L727.0 874.4L728.3 872.9L729.6 871.5L730.9 870.0L732.1 868.5L733.4 867.0L734.6 865.6L735.8 864.1L737.0 862.6L738.2 861.2L739.4 859.7L740.6 858.2L741.8 856.7L743.0 855.2L744.2 853.7L745.3 852.2L746.5 850.7L747.6 849.3L748.8 847.8L749.9 846.4L751.1 844.9L752.3 843.3L753.4 841.7L754.5 840.2L755.6 838.6L756.7 837.1L757.9 835.6L759.0 834.1L760.1 832.6L761.2 831.2L762.4 829.8L763.6 828.5L764.9 827.1L766.3 825.7L767.6 824.4L769.0 823.1L770.4 821.8L771.8 820.6L773.2 819.4L774.6 818.3L776.0 817.2L777.4 816.2L778.9 815.1L780.5 814.1L782.0 813.2L783.6 812.3L785.1 811.4L786.7 810.6L788.2 809.9L789.7 809.3L791.7 808.5L793.6 807.9L795.5 807.3L797.4 807.0L799.3 806.8L801.0 806.8L802.7 806.9L804.4 807.3L806.0 807.8L807.6 808.5L808.9 809.3L810.2 810.4L811.4 811.6L812.6 812.9L813.8 814.4L814.8 815.9L815.8 817.5L816.6 819.0L817.3 820.6L817.9 822.2L818.5 824.0L819.0 825.8L819.5 827.7L819.9 829.6L820.4 831.5L820.8 833.4L821.3 835.4L821.7 837.2L822.1 839.0L822.4 840.8L822.7 842.7L823.1 844.7L823.4 846.6L823.7 848.5L824.0 850.5L824.2 852.5L824.5 854.4L824.8 856.3L825.1 858.2L825.4 860.1L825.7 862.0L826.0 864.0L826.3 865.9L826.6 867.9L826.8 869.9L827.1 871.8L827.4 873.7L827.7 875.5L828.0 877.3L828.3 879.0L828.6 880.6L829.0 882.1L829.6 884.5L830.3 886.9L830.9 889.1L831.6 890.6L832.3 891.2L833.0 890.6L833.6 889.0L834.3 886.8L834.9 884.4L835.6 882.1L836.1 880.2L836.6 877.9L837.1 875.5L837.6 873.0L838.2 870.8L838.7 868.9L839.3 867.6L840.0 867.0L840.9 867.4L841.8 868.6L842.8 870.3L843.7 872.1L844.7 873.8L845.6 875.5L846.5 877.6L847.4 879.7L848.4 881.6L849.3 883.0L850.2 883.5L851.1 883.1L852.1 881.9L853.0 880.2L854.0 878.2L854.9 876.0L855.7 873.8L856.2 872.3L856.7 870.6L857.1 868.8L857.5 866.9L857.8 864.9L858.2 862.8L858.5 860.7L858.9 858.6L859.2 856.4L859.6 854.3L859.9 852.2L860.3 850.2L860.7 848.2L861.2 846.4L861.7 844.5L862.3 842.6L862.9 840.7L863.4 838.9L864.0 837.1L864.6 835.3L865.3 833.6L865.9 831.9L866.6 830.3L867.3 828.7L868.0 827.1L868.9 825.2L869.8 823.1L870.8 820.9L871.8 818.9L872.8 817.1L873.8 815.6L874.7 814.6L875.7 814.2L876.7 814.8L877.7 816.2L878.7 818.2L879.7 820.1L880.8 821.6L881.8 822.2L882.9 821.7L884.0 820.5L885.1 818.7L886.2 816.8L887.4 814.9L888.6 813.4L890.0 812.3L891.4 811.3L892.9 810.4L894.3 809.3L895.5 807.9L896.3 806.5L897.0 804.9L897.5 803.1L898.1 801.2L898.5 799.1L899.0 797.0L899.4 794.9L899.9 792.7L900.4 790.7L901.0 788.7L901.6 786.9L902.1 785.1L902.7 783.2L903.2 781.3L903.8 779.5L904.4 777.6L905.0 775.8L905.7 774.1L906.4 772.5L907.1 770.9L907.9 769.5L908.9 767.9L909.9 766.5L911.0 765.2L912.1 764.0L913.4 762.8L914.7 761.8L916.1 760.7L917.5 759.8L919.0 759.0L920.5 758.2L922.2 757.5L923.9 756.8L925.6 756.2L927.4 755.5L929.3 754.9L931.2 754.3L932.9 753.8L934.6 753.2L936.3 752.7L938.1 752.2L939.9 751.8L941.8 751.3L943.7 750.8L945.6 750.4L947.6 749.9L949.6 749.5L951.7 749.1L953.8 748.7L955.9 748.3L957.6 748.0L959.4 747.7L961.2 747.4L963.1 747.1L964.9 746.8L966.9 746.5L968.8 746.3L970.8 746.0L972.8 745.7L974.8 745.5L976.8 745.2L978.8 745.0L980.8 744.8L982.9 744.5L984.9 744.3L987.0 744.1L989.0 743.9L991.1 743.7L993.1 743.5L995.1 743.3L997.1 743.1L999.0 742.9L1001.0 742.8L1003.0 742.6L1005.0 742.5L1007.1 742.4L1009.1 742.2L1011.1 742.1L1013.2 742.0L1015.2 741.9L1017.3 741.8L1019.3 741.7L1021.4 741.6L1023.4 741.5L1025.3 741.5L1027.3 741.4L1029.2 741.3L1031.1 741.2L1033.0 741.1L1034.8 741.0L1036.6 740.9L1038.3 740.7L1040.0 740.6L1042.1 740.4L1044.1 740.2L1046.0 740.0L1047.8 739.8L1049.5 739.6L1051.3 739.4L1053.0 739.2L1054.8 739.0L1056.6 738.8L1058.6 738.6L1060.7 738.4L1062.9 738.2L1064.5 738.1L1066.1 738.0L1067.7 737.9L1069.5 737.7L1071.2 737.6L1073.1 737.5L1074.9 737.4L1076.8 737.3L1078.8 737.2L1080.8 737.1L1082.8 737.0L1084.8 736.9L1086.8 736.8L1088.9 736.6L1091.0 736.5L1093.1 736.5L1095.2 736.4L1097.3 736.3L1099.4 736.2L1101.6 736.1L1103.7 736.0L1105.8 735.9L1107.9 735.8L1109.9 735.7L1112.0 735.7L1114.0 735.6L1116.1 735.5L1118.0 735.5L1120.0 735.4L1122.0 735.3L1124.1 735.3L1126.2 735.3L1128.3 735.2L1130.4 735.2L1132.5 735.2L1134.6 735.2L1136.8 735.2L1138.9 735.3L1141.0 735.3L1143.2 735.3L1145.3 735.3L1147.4 735.3L1149.5 735.3L1151.5 735.3L1153.6 735.3L1155.6 735.3L1157.6 735.3L1159.6 735.3L1161.5 735.3L1163.4 735.2L1165.2 735.2L1167.0 735.1L1168.7 735.0L1170.4 734.9L1172.0 734.7L1173.6 734.6L1175.9 734.3L1178.2 734.0L1180.3 733.6L1182.3 733.1L1184.2 732.7L1186.1 732.2L1187.9 731.7L1189.7 731.3L1191.5 731.0L1193.2 730.6L1195.0 730.4L1196.9 730.2L1198.7 730.0L1200.5 729.8L1202.3 729.6L1204.0 729.5L1205.7 729.6L1207.5 729.7L1209.3 730.0L1211.0 730.4L1212.8 731.1L1214.5 731.8L1216.3 732.6L1218.1 733.6L1219.9 734.5L1221.7 735.5L1223.5 736.5L1225.3 737.4L1227.1 738.2L1228.9 739.0L1230.7 739.9L1232.4 740.9L1234.2 741.9L1236.0 742.8L1237.8 743.6L1239.6 744.4L1241.4 745.0L1243.2 745.5L1245.0 745.7L1246.8 745.7L1248.5 745.4L1250.2 744.9L1251.9 744.3L1253.6 743.6L1255.4 742.9L1257.2 742.2L1259.0 741.5L1260.9 741.0L1262.9 740.7L1264.6 740.6L1266.3 740.5L1268.1 740.5L1269.9 740.5L1271.8 740.6L1273.6 740.7L1275.6 740.8L1277.5 741.0L1279.4 741.2L1281.4 741.4L1283.4 741.6L1285.4 741.9L1287.4 742.1L1289.4 742.3L1291.4 742.5L1293.3 742.7L1295.2 742.9L1297.1 743.1L1299.1 743.4L1301.1 743.6L1303.1 743.9L1305.1 744.1L1307.1 744.4L1309.1 744.7L1311.1 745.0L1313.2 745.2L1315.2 745.5L1317.2 745.8L1319.2 746.1L1321.2 746.3L1323.2 746.6L1325.2 746.9L1327.1 747.1L1329.0 747.3L1331.0 747.6L1332.9 747.8L1334.8 748.1L1336.7 748.3L1338.6 748.6L1340.5 748.9L1342.4 749.1L1344.2 749.3L1346.1 749.6L1348.0 749.8L1349.9 750.0L1351.8 750.2L1353.6 750.3L1355.5 750.5L1357.4 750.6L1359.3 750.7L1361.2 750.8L1363.1 750.8L1365.0 750.9L1366.9 750.9L1368.7 750.9L1370.6 750.9L1372.5 750.9L1374.4 750.9L1376.3 750.8L1378.2 750.8L1380.1 750.7L1382.0 750.6L1383.9 750.5L1385.7 750.4L1387.6 750.3L1389.5 750.1L1391.4 750.0L1393.3 749.8L1395.2 749.6L1397.0 749.4L1398.9 749.2L1400.8 748.9L1402.6 748.6L1404.5 748.4L1406.4 748.1L1408.2 747.7L1410.1 747.4L1412.0 747.1L1413.9 746.8L1415.8 746.5L1417.7 746.2L1419.7 745.9L1421.6 745.7L1423.6 745.4L1425.5 745.2L1427.4 744.9L1429.4 744.7L1431.3 744.5L1433.4 744.3L1435.4 744.1L1437.4 743.9L1439.5 743.7L1441.5 743.5L1443.6 743.2L1445.6 743.0L1447.6 742.8L1449.6 742.6L1451.6 742.4L1453.6 742.2L1455.5 742.0L1457.5 741.8L1459.3 741.6L1461.1 741.3L1462.9 741.1L1465.0 740.8L1467.1 740.5L1469.1 740.1L1471.1 739.7L1473.1 739.4L1475.1 739.0L1477.0 738.6L1478.8 738.3L1480.7 738.0L1482.5 737.7L1484.3 737.5L1486.1 737.2L1487.9 737.1L1490.0 737.0L1492.1 736.9L1494.1 736.8L1496.1 736.7L1498.1 736.7L1500.1 736.8L1502.0 737.0L1503.8 737.2L1505.7 737.5L1507.6 737.9L1509.6 738.5L1511.5 739.1L1513.4 739.9L1515.3 740.6L1517.0 741.4L1518.6 742.2L1520.0 742.9L1521.6 743.9L1522.8 745.0L1524.1 746.1L1525.5 746.8L1527.3 747.1L1529.3 746.9L1531.3 746.9L1533.2 747.3L1534.6 748.1L1536.0 749.2L1537.3 750.6L1538.5 752.0L1539.7 753.5L1540.9 754.9L1542.1 756.4L1543.3 757.8L1544.4 759.3L1545.4 760.8L1546.4 762.6L1547.1 764.1L1547.7 765.8L1548.3 767.5L1548.9 769.3L1549.4 771.2L1549.9 773.1L1550.4 775.0L1550.8 776.9L1551.2 778.7L1551.6 780.6L1551.9 782.5L1552.2 784.4L1552.4 786.4L1552.7 788.3L1552.9 790.4L1553.2 792.4L1553.4 794.5L1553.6 796.2L1553.8 798.0L1553.9 799.7L1554.1 801.5L1554.2 803.3L1554.3 805.1L1554.4 807.0L1554.6 808.9L1554.7 810.8L1554.8 812.7L1554.9 814.7L1555.1 816.7L1555.2 818.7L1555.3 820.5L1555.4 822.3L1555.6 824.2L1555.7 826.1L1555.8 828.0L1555.9 830.0L1556.0 832.0L1556.2 834.0L1556.3 836.0L1556.4 838.0L1556.5 840.0L1556.7 842.0L1556.8 844.0L1556.9 846.0L1557.0 848.0L1557.1 850.0L1557.3 851.9L1557.4 853.8L1557.5 855.8L1557.7 857.8L1557.8 859.8L1557.9 861.8L1558.1 863.7L1558.2 865.7L1558.3 867.7L1558.5 869.7L1558.6 871.6L1558.7 873.5L1558.9 875.4L1559.0 877.3L1559.2 879.2L1559.3 881.0L1559.5 882.8L1559.6 884.6L1559.8 886.7L1559.9 888.9L1560.0 891.3L1560.1 893.7L1560.2 896.0L1560.4 898.3L1560.5 900.4L1560.7 902.3L1560.9 904.0L1561.1 905.3L1561.4 906.2L1561.8 906.6L1562.6 906.4L1563.5 905.5L1563.9 904.6L1564.3 903.4L1564.6 901.9L1564.9 900.2L1565.2 898.2L1565.5 896.0L1565.8 893.8L1566.0 891.4L1566.3 889.0L1566.5 886.7L1566.8 884.4L1567.0 882.2L1567.3 880.2L1567.6 878.3L1567.8 876.4L1568.0 874.4L1568.3 872.4L1568.5 870.5L1568.7 868.5L1568.9 866.6L1569.2 864.7L1569.4 862.8L1569.7 861.0L1569.9 859.2L1570.2 857.6L1570.5 856.0L1570.9 854.0L1571.3 852.1L1571.7 850.2L1572.1 848.5L1572.6 846.9L1573.2 845.4L1573.8 844.0L1574.8 842.3L1575.8 840.6L1577.0 839.4L1578.2 838.9L1579.5 839.4L1580.9 840.7L1582.3 842.4L1583.7 844.0L1584.8 845.1L1585.9 846.3L1587.1 847.5L1588.2 848.8L1589.3 850.1L1590.3 851.6L1591.1 853.0L1591.9 854.5L1592.6 856.0L1593.2 857.6L1593.9 859.3L1594.5 861.0L1595.2 862.9L1595.8 864.8L1596.3 866.4L1596.8 868.1L1597.3 869.8L1597.8 871.6L1598.3 873.5L1598.8 875.4L1599.3 877.4L1599.8 879.4L1600.3 881.4L1600.7 883.4L1601.2 885.4L1601.6 887.3L1602.0 889.3L1602.4 891.2L1602.8 893.1L1603.1 895.0L1603.5 896.8L1603.8 898.7L1604.1 900.6L1604.4 902.4L1604.7 904.3L1605.0 906.2L1605.3 908.1L1605.6 910.0L1605.9 911.9L1606.2 913.8L1606.5 915.7L1606.8 917.6L1607.1 919.5L1607.4 921.4L1607.7 923.3L1608.0 925.3L1608.3 927.2L1608.6 929.2L1608.9 931.2L1609.2 933.1L1609.5 935.1L1609.8 937.0L1610.1 938.9L1610.4 940.8L1610.6 942.6L1610.9 944.4L1611.2 946.2L1611.5 948.3L1611.9 950.4L1612.2 952.3L1612.6 954.3L1612.9 956.2L1613.2 958.1L1613.5 960.0L1613.9 961.9L1614.2 963.9L1614.5 965.9L1614.8 967.7L1615.0 969.6L1615.3 971.4L1615.5 973.3L1615.8 975.2L1616.0 977.1L1616.3 979.0L1616.5 980.9L1616.8 982.7L1617.1 984.5L1617.4 986.2L1617.8 987.9L1618.3 990.0L1618.8 992.4L1619.3 994.7L1619.8 997.0L1620.4 999.0L1621.0 1000.6L1621.6 1001.7L1622.2 1002.2L1623.0 1001.8L1623.9 1000.5L1624.9 998.7L1625.8 996.6L1626.6 994.5L1627.1 993.1L1627.6 991.6L1628.1 989.9L1628.6 988.2L1629.1 986.4L1629.6 984.5L1630.0 982.5L1630.5 980.6L1630.9 978.6L1631.3 976.5L1631.7 974.5L1632.1 972.5L1632.4 970.7L1632.7 969.0L1633.0 967.2L1633.3 965.3L1633.6 963.5L1633.9 961.6L1634.1 959.7L1634.4 957.8L1634.6 955.9L1634.9 954.0L1635.1 952.0L1635.4 950.0L1635.6 948.0L1635.9 945.9L1636.2 943.9L1636.5 941.8L1636.8 940.0L1637.0 938.2L1637.3 936.4L1637.5 934.5L1637.8 932.6L1638.1 930.7L1638.3 928.8L1638.6 926.8L1638.9 924.8L1639.1 922.8L1639.4 920.8L1639.7 918.8L1640.0 916.8L1640.3 914.8L1640.6 912.9L1640.9 910.9L1641.2 909.0L1641.5 907.0L1641.8 905.1L1642.1 903.2L1642.4 901.4L1642.8 899.6L1643.1 897.8L1643.5 895.8L1643.9 893.7L1644.3 891.7L1644.7 889.6L1645.1 887.6L1645.5 885.5L1645.9 883.5L1646.3 881.6L1646.8 879.6L1647.2 877.7L1647.7 875.8L1648.2 874.0L1648.7 872.3L1649.2 870.6L1649.7 868.9L1650.2 867.4L1650.8 865.9L1651.7 863.9L1652.5 862.0L1653.5 860.2L1654.4 858.6L1655.4 857.0L1656.4 855.5L1657.4 854.1L1658.5 852.7L1659.7 851.3L1661.0 850.1L1662.4 848.9L1663.7 847.8L1665.0 846.5L1666.2 845.1L1667.1 843.8L1668.0 842.3L1668.8 840.7L1669.6 839.1L1670.4 837.5L1671.2 835.8L1672.0 834.1L1672.9 832.4L1673.8 830.8L1674.7 829.2L1675.6 827.6L1676.6 826.0L1677.5 824.3L1678.5 822.7L1679.5 821.1L1680.5 819.5L1681.5 818.1L1682.6 816.7L1683.7 815.4L1685.0 814.0L1686.4 812.8L1687.9 811.6L1689.3 810.6L1690.8 809.6L1692.2 808.6L1693.6 807.7L1695.2 806.5L1696.8 805.3L1698.3 804.2L1699.8 803.5L1701.3 803.3L1702.7 803.8L1704.1 804.9L1705.4 806.4L1706.7 808.1L1707.9 809.9L1708.7 811.3L1709.5 812.9L1710.2 814.6L1710.9 816.5L1711.6 818.4L1712.2 820.4L1712.8 822.5L1713.4 824.5L1714.0 826.6L1714.5 828.6L1715.0 830.4L1715.4 832.3L1715.8 834.2L1716.2 836.2L1716.5 838.1L1716.8 840.1L1717.2 842.1L1717.5 844.1L1717.8 846.0L1718.2 847.9L1718.5 849.8L1718.9 851.6L1719.3 853.5L1719.7 855.4L1720.1 857.3L1720.5 859.2L1720.9 861.0L1721.3 862.8L1721.7 864.5L1722.2 866.2L1722.7 867.7L1723.3 869.2L1724.1 871.0L1724.9 872.7L1725.7 874.3L1726.6 875.7L1727.7 876.8L1728.8 877.6L1730.6 877.8L1732.6 877.2L1734.6 876.6L1736.5 876.5L1738.0 877.3L1739.3 878.5L1740.6 879.6L1742.0 880.2L1743.6 879.9L1745.3 879.1L1747.0 878.0L1748.6 876.9L1750.2 875.6L1751.8 874.0L1753.3 872.8L1754.7 872.5L1755.6 873.3L1756.3 874.9L1756.9 877.1L1757.5 879.5L1758.1 881.7L1758.8 883.5L1759.6 884.6L1761.3 885.1L1762.9 884.6L1763.5 883.8L1764.1 882.5L1764.5 880.8L1764.9 878.8L1765.3 876.6L1765.6 874.3L1766.0 872.0L1766.4 869.8L1766.8 867.7L1767.3 865.9L1768.0 864.0L1768.7 862.3L1769.5 860.7L1770.3 859.0L1771.1 857.4L1771.9 855.7L1772.7 853.8L1773.3 852.2L1773.9 850.5L1774.5 848.7L1775.0 846.9L1775.6 845.1L1776.2 843.2L1776.8 841.3L1777.4 839.5L1778.0 837.6L1778.6 835.8L1779.3 834.1L1780.0 832.3L1780.7 830.5L1781.5 828.6L1782.2 826.8L1783.0 825.0L1783.7 823.3L1784.5 821.6L1785.3 820.1L1786.2 818.8L1787.0 817.6L1788.3 816.1L1789.7 814.8L1791.1 813.8L1792.5 813.2L1794.3 813.3L1796.1 813.8L1798.0 813.8L1799.4 812.9L1800.7 811.4L1802.1 809.7L1803.6 807.9L1805.0 806.5L1806.6 805.7L1808.2 805.8L1809.8 806.4L1811.5 807.4L1813.2 808.4L1814.9 809.1L1816.5 809.2L1818.1 808.5L1819.6 807.0L1821.2 805.3L1822.6 803.6L1824.0 802.4L1825.3 802.0L1826.5 802.5L1827.7 803.6L1828.8 805.2L1829.8 806.9L1830.8 808.6L1831.6 810.1L1832.4 811.8L1833.1 813.5L1833.9 815.4L1834.6 817.2L1835.4 819.0L1836.3 820.7L1837.3 822.4L1838.3 824.1L1839.3 825.8L1840.4 827.5L1841.6 829.0L1842.8 830.4L1844.0 831.6L1845.5 832.8L1847.0 833.9L1848.6 834.8L1850.1 835.3L1851.6 835.4L1853.0 834.9L1854.3 833.9L1855.6 832.5L1856.9 831.0L1858.2 829.5L1859.3 828.1L1860.3 826.5L1861.4 824.9L1862.4 823.1L1863.5 821.5L1864.7 819.9L1865.9 818.5L1867.4 817.0L1869.1 815.6L1870.8 814.2L1872.5 813.1L1874.2 812.3L1875.8 811.9L1877.6 812.1L1879.3 812.9L1880.9 814.0L1882.4 815.2L1883.7 816.4L1884.8 817.8L1885.9 819.4L1886.9 821.1L1887.9 822.9L1888.6 824.3L1889.3 825.9L1889.9 827.6L1890.5 829.4L1891.1 831.1L1891.7 833.0L1892.3 834.8L1892.8 836.5L1893.4 838.2L1894.0 840.2L1894.7 842.3L1895.2 844.3L1895.8 846.3L1896.4 848.2L1897.1 849.9L1897.8 851.4L1899.0 853.4L1900.3 855.1L1901.5 855.8L1902.5 855.1L1903.6 853.5L1904.6 851.4L1905.5 849.2L1906.0 847.8L1906.5 846.2L1906.9 844.4L1907.3 842.5L1907.7 840.6L1908.0 838.7L1908.4 836.7L1908.9 834.9L1909.4 833.2L1909.9 831.6L1910.7 829.6L1911.5 827.6L1912.4 825.7L1913.4 824.0L1914.4 822.7L1915.4 821.8L1916.9 821.2L1918.5 821.2L1919.8 821.8L1920.4 822.8L1920.8 824.4L1921.0 826.5L1921.2 828.8L1921.3 831.1L1921.6 833.2L1922.0 834.9L1922.6 836.0L1924.1 836.6L1925.8 836.5L1927.5 836.7L1928.9 837.7L1930.3 838.9L1931.9 839.8L1933.4 839.9L1935.2 839.8L1937.1 839.4L1939.1 838.9L1941.1 838.5L1942.9 838.2L1944.7 837.9L1946.5 837.6L1948.3 837.4L1950.0 837.3L1951.6 837.6L1953.1 838.4L1954.4 839.6L1955.7 841.0L1956.9 842.3L1958.2 843.1L1959.7 843.7L1961.2 844.0L1962.6 843.7L1963.6 842.8L1964.5 841.3L1965.4 839.3L1966.3 837.2L1967.2 835.1L1968.2 833.1L1969.2 831.6L1970.5 830.3L1971.8 829.3L1973.2 828.3L1974.5 827.5L1975.8 826.8L1977.4 826.3L1978.9 825.9L1980.2 825.1L1980.9 823.9L1981.5 822.3L1981.9 820.3L1982.2 818.2L1982.6 816.0L1983.0 813.9L1983.5 811.9L1984.1 810.2L1984.7 808.5L1985.4 806.8L1986.1 805.1L1986.8 803.4L1987.5 801.8L1988.2 800.2L1989.0 798.7L1989.9 797.2L1990.8 795.8L1991.7 794.4L1992.6 793.1L1993.6 791.6L1994.5 789.9L1995.2 788.4L1995.9 786.7L1996.5 785.0L1997.2 783.1L1997.8 781.2L1998.5 779.2L1999.1 777.3L1999.8 775.4L2000.6 773.5L2001.4 771.7L2002.2 770.1L2003.2 768.4L2004.2 766.8L2005.2 765.1L2006.3 763.6L2007.4 762.1L2008.5 760.6L2009.7 759.3L2010.9 758.0L2012.1 756.9L2013.7 755.7L2015.4 754.8L2017.1 754.0L2018.9 753.3L2020.5 752.4L2022.0 751.4L2023.2 750.2L2024.3 748.9L2025.4 747.5L2026.4 746.1L2027.4 744.8L2028.6 743.7L2030.1 742.8L2031.6 742.0L2033.2 741.4L2034.8 740.7L2036.3 739.8L2037.6 738.8L2038.8 737.6L2040.0 736.4L2041.3 735.2L2042.6 734.1L2044.0 733.2L2045.6 732.5L2047.4 732.0L2049.3 731.5L2051.2 731.2L2053.0 730.9L2054.9 730.5L2056.8 730.0L2058.8 729.4L2060.8 728.7L2062.7 728.3L2064.5 728.1L2065.9 728.4L2067.3 729.4L2068.3 731.0L2069.1 732.9L2069.9 734.9L2070.4 736.7L2070.9 739.0L2071.3 741.5L2071.6 744.1L2071.9 746.4L2072.3 748.4L2072.6 749.8L2073.0 750.3L2073.5 749.7L2074.1 748.1L2074.6 745.9L2075.2 743.6L2075.8 741.5L2076.3 739.7L2076.7 737.7L2077.1 735.7L2077.6 733.8L2078.2 732.2L2079.1 731.0L2080.4 730.2L2081.9 729.7L2083.5 729.5L2085.0 729.5L2086.7 729.9L2088.4 730.7L2090.0 731.5" fill="none" stroke="#f00" stroke-width="3.9" stroke-linejoin="round" shape-rendering="crispEdges"/>
<line x1="510.0" y1="1414.0" x2="510.0" y2="1389.8" stroke="#000" stroke-width="7.6" stroke-linecap="round"/><line x1="808.1" y1="1414.0" x2="808.1" y2="1389.8" stroke="#000" stroke-width="7.6" stroke-linecap="round"/><line x1="1106.1" y1="1414.0" x2="1106.1" y2="1389.8" stroke="#000" stroke-width="7.6" stroke-linecap="round"/><line x1="1404.1" y1="1414.0" x2="1404.1" y2="1389.8" stroke="#000" stroke-width="7.6" stroke-linecap="round"/><line x1="1702.2" y1="1414.0" x2="1702.2" y2="1389.8" stroke="#000" stroke-width="7.6" stroke-linecap="round"/><line x1="2000.2" y1="1414.0" x2="2000.2" y2="1389.8" stroke="#000" stroke-width="7.6" stroke-linecap="round"/>
<line x1="361.0" y1="1414.0" x2="361.0" y2="1402.8" stroke="#000" stroke-width="7.6" stroke-linecap="round"/><line x1="659.0" y1="1414.0" x2="659.0" y2="1402.8" stroke="#000" stroke-width="7.6" stroke-linecap="round"/><line x1="957.1" y1="1414.0" x2="957.1" y2="1402.8" stroke="#000" stroke-width="7.6" stroke-linecap="round"/><line x1="1255.1" y1="1414.0" x2="1255.1" y2="1402.8" stroke="#000" stroke-width="7.6" stroke-linecap="round"/><line x1="1553.2" y1="1414.0" x2="1553.2" y2="1402.8" stroke="#000" stroke-width="7.6" stroke-linecap="round"/><line x1="1851.2" y1="1414.0" x2="1851.2" y2="1402.8" stroke="#000" stroke-width="7.6" stroke-linecap="round"/>
<path d="M212.4 3087.4L212.8 3086.0L213.2 3084.6L213.6 3083.2L213.9 3081.8L214.3 3080.4L214.7 3079.0L215.1 3077.6L215.5 3076.2L215.9 3074.8L216.3 3073.5L216.8 3072.1L217.3 3070.8L217.9 3069.5L218.6 3068.2L219.3 3066.9L220.0 3065.6L220.9 3064.4L221.7 3063.1L222.5 3061.9L223.4 3060.7L224.3 3059.5L225.1 3058.3L226.0 3057.0L226.7 3055.7L227.5 3054.4L228.1 3053.2L228.7 3051.9L229.3 3050.5L229.9 3049.1L230.4 3047.8L231.0 3046.4L231.5 3045.0L232.0 3043.6L232.6 3042.2L233.2 3040.9L233.7 3039.7L234.4 3038.6L235.0 3037.5L235.7 3036.5L236.7 3035.4L237.7 3034.5L238.7 3033.7L239.8 3032.9L240.9 3032.2L241.9 3031.4L243.0 3030.6L244.0 3029.7L244.9 3028.7L245.8 3027.5L246.7 3026.3L247.5 3025.1L248.4 3023.9L249.3 3022.7L250.2 3021.5L251.2 3020.4L252.2 3019.5L253.3 3018.7L254.5 3018.0L255.7 3017.4L257.0 3016.9L258.3 3016.4L259.6 3015.8L260.9 3015.3L262.1 3014.7L263.2 3014.0L264.3 3013.1L265.4 3012.2L266.4 3011.1L267.3 3010.0L268.3 3009.0L269.3 3008.1L270.3 3007.4L271.4 3006.9L272.7 3006.6L274.1 3006.5L275.5 3006.6L276.9 3006.8L278.3 3007.2L279.7 3007.7L280.8 3008.3L281.9 3009.2L283.1 3010.3L284.3 3011.5L285.4 3012.8L286.5 3014.0L287.6 3015.0L288.7 3015.9L289.7 3016.5L290.7 3016.8L291.9 3016.6L293.1 3016.1L294.2 3015.3L295.3 3014.3L296.2 3013.2L296.9 3012.2L297.5 3011.1L298.0 3009.8L298.5 3008.4L298.9 3007.0L299.3 3005.4L299.8 3003.8L300.3 3002.2L300.7 3001.1L301.0 2999.9L301.4 2998.6L301.7 2997.4L302.1 2996.0L302.4 2994.6L302.8 2993.2L303.2 2991.8L303.5 2990.4L303.9 2988.9L304.3 2987.4L304.7 2986.0L305.0 2984.5L305.4 2983.1L305.8 2981.6L306.3 2980.2L306.7 2978.8L307.1 2977.5L307.6 2976.1L308.0 2974.6L308.5 2973.2L309.0 2971.7L309.5 2970.3L310.0 2968.9L310.5 2967.4L311.0 2966.0L311.5 2964.6L312.1 2963.2L312.6 2961.9L313.2 2960.5L313.7 2959.2L314.3 2958.0L314.8 2956.7L315.4 2955.5L316.1 2954.1L316.8 2952.7L317.5 2951.4L318.2 2950.1L318.9 2948.9L319.6 2947.6L320.3 2946.4L321.1 2945.2L321.9 2944.1L322.7 2942.9L323.6 2941.8L324.5 2940.7L325.4 2939.6L326.4 2938.6L327.4 2937.6L328.4 2936.6L329.4 2935.6L330.5 2934.6L331.5 2933.7L332.5 2932.8L333.6 2931.8L334.6 2930.7L335.7 2929.6L336.7 2928.5L337.8 2927.4L338.9 2926.3L340.0 2925.4L341.0 2924.6L342.1 2923.9L343.3 2923.2L344.4 2922.6L345.6 2922.0L346.7 2921.4L347.8 2920.6L348.9 2919.6L350.0 2918.4L351.1 2917.0L352.3 2915.5L353.5 2914.1L354.7 2912.8L355.9 2911.7L357.1 2910.8L358.3 2910.2L359.5 2909.7L360.7 2909.3L361.8 2909.0L363.0 2908.6L364.2 2908.0L365.3 2907.2L366.5 2906.2L367.7 2904.9L368.9 2903.6L370.1 2902.2L371.3 2900.8L372.5 2899.6L373.7 2898.6L374.9 2897.8L376.2 2897.2L377.4 2896.8L378.6 2896.5L379.8 2896.2L381.0 2895.8L382.2 2895.2L383.4 2894.3L384.6 2893.3L385.8 2892.0L387.0 2890.7L388.2 2889.3L389.4 2888.0L390.6 2886.9L391.8 2885.9L393.1 2885.2L394.3 2884.7L395.4 2884.3L396.6 2883.9L397.8 2883.5L398.9 2882.9L400.0 2882.1L401.1 2881.2L402.1 2880.0L403.2 2878.7L404.3 2877.2L405.3 2875.7L406.4 2874.2L407.4 2872.9L408.5 2871.6L409.6 2870.5L410.6 2869.7L411.7 2868.9L412.7 2868.3L413.8 2867.8L414.9 2867.3L415.9 2866.7L417.0 2866.0L418.1 2865.1L419.3 2864.0L420.4 2862.8L421.5 2861.4L422.7 2859.9L423.8 2858.5L425.0 2857.1L426.1 2855.9L427.3 2855.0L428.4 2854.2L429.6 2853.6L430.7 2853.1L431.8 2852.7L433.0 2852.2L434.1 2851.5L435.2 2850.7L436.3 2849.7L437.3 2848.5L438.4 2847.1L439.4 2845.7L440.4 2844.1L441.4 2842.6L442.4 2841.1L443.4 2839.7L444.4 2838.5L445.4 2837.4L446.4 2836.5L447.4 2835.7L448.4 2835.0L449.4 2834.4L450.4 2833.7L451.4 2832.9L452.4 2832.1L453.5 2831.1L454.5 2830.0L455.5 2828.7L456.6 2827.3L457.6 2825.8L458.7 2824.3L459.8 2822.8L460.8 2821.5L461.9 2820.4L463.0 2819.4L464.1 2818.6L465.2 2818.0L466.3 2817.5L467.4 2817.1L468.4 2816.6L469.5 2815.9L470.6 2815.1L471.6 2814.2L472.7 2813.0L473.7 2811.7L474.7 2810.3L475.7 2808.8L476.7 2807.3L477.7 2805.9L478.7 2804.5L479.7 2803.3L480.6 2802.3L481.6 2801.4L482.6 2800.6L483.5 2799.9L484.5 2799.3L485.4 2798.6L486.4 2798.0L487.3 2797.2L488.3 2796.3L489.2 2795.3L490.2 2794.1L491.2 2792.9L492.3 2791.4L493.4 2789.8L494.5 2788.3L495.6 2786.9L496.7 2785.7L497.8 2784.6L498.9 2783.8L500.0 2783.1L501.1 2782.5L502.2 2782.1L503.3 2781.6L504.4 2781.0L505.5 2780.2L506.6 2779.3L507.7 2778.1L508.7 2776.8L509.7 2775.4L510.6 2774.0L511.6 2772.5L512.5 2771.0L513.5 2769.6L514.4 2768.4L515.4 2767.2L516.3 2766.2L517.3 2765.3L518.2 2764.6L519.2 2763.9L520.2 2763.3L521.1 2762.7L522.1 2762.1L523.2 2761.3L524.2 2760.4L525.3 2759.3L526.3 2758.1L527.4 2756.8L528.5 2755.4L529.7 2754.0L530.8 2752.7L532.0 2751.6L533.1 2750.6L534.3 2749.9L535.4 2749.4L536.6 2749.0L537.7 2748.6L538.9 2748.3L540.0 2747.8L541.2 2747.1L542.3 2746.2L543.4 2745.1L544.5 2743.8L545.6 2742.4L546.6 2740.9L547.7 2739.5L548.7 2738.1L549.8 2736.8L550.8 2735.7L551.9 2734.8L553.0 2734.0L554.0 2733.3L555.1 2732.8L556.1 2732.2L557.2 2731.7L558.2 2731.0L559.3 2730.1L560.4 2729.1L561.5 2728.0L562.6 2726.7L563.8 2725.3L564.9 2723.9L566.1 2722.7L567.2 2721.6L568.4 2720.7L569.5 2720.1L570.7 2719.7L571.9 2719.4L573.0 2719.2L574.2 2719.1L575.5 2718.7L576.7 2718.2L578.0 2717.4L579.2 2716.4L580.6 2715.0L581.9 2713.6L583.0 2712.4L584.1 2711.2L585.3 2710.3L586.4 2709.4L587.6 2708.8L588.8 2708.4L590.0 2708.1L591.2 2707.9L592.4 2707.5L593.7 2707.0L594.9 2706.3L596.2 2705.3L597.5 2704.1L598.8 2702.7L600.0 2701.3L601.3 2699.9L602.6 2698.7L603.9 2697.7L605.2 2697.1L606.5 2696.6L607.8 2696.4L609.1 2696.1L610.4 2695.8L611.7 2695.3L613.0 2694.6L614.3 2693.6L615.5 2692.4L616.8 2691.1L618.0 2689.8L619.3 2688.6L620.6 2687.6L621.8 2686.8L623.1 2686.3L624.4 2686.0L625.6 2685.9L626.9 2685.7L628.2 2685.5L629.5 2685.1L630.7 2684.4L632.0 2683.5L633.3 2682.4L634.6 2681.1L635.9 2679.9L637.1 2678.7L638.4 2677.7L639.7 2677.1L641.0 2676.6L642.3 2676.4L643.6 2676.3L644.9 2676.2L646.1 2676.0L647.4 2675.6L648.7 2674.9L650.0 2673.9L651.3 2672.7L652.6 2671.4L654.0 2670.2L655.3 2669.1L656.6 2668.2L657.9 2667.7L659.2 2667.4L660.5 2667.2L661.9 2667.2L663.2 2667.1L664.5 2666.8L665.8 2666.2L667.1 2665.4L668.5 2664.3L669.8 2663.1L671.1 2661.8L672.4 2660.7L673.8 2659.7L675.1 2659.1L676.4 2658.7L677.7 2658.5L679.0 2658.4L680.4 2658.4L681.7 2658.1L683.0 2657.7L684.3 2657.0L685.6 2656.0L687.0 2654.8L688.3 2653.5L689.6 2652.3L690.9 2651.2L692.3 2650.5L693.6 2650.0L694.9 2649.7L696.2 2649.6L697.5 2649.6L698.9 2649.4L700.2 2649.0L701.5 2648.4L702.8 2647.5L704.2 2646.4L705.5 2645.1L706.8 2643.9L708.1 2642.8L709.5 2641.9L710.8 2641.3L712.1 2641.0L713.4 2640.9L714.7 2640.8L716.1 2640.7L717.4 2640.5L718.7 2640.0L720.0 2639.2L721.4 2638.1L722.7 2636.9L724.0 2635.7L725.3 2634.6L726.6 2633.6L727.9 2632.9L729.3 2632.5L730.6 2632.3L731.9 2632.3L733.2 2632.3L734.5 2632.1L735.8 2631.7L737.2 2631.1L738.5 2630.1L739.8 2629.0L741.1 2627.8L742.4 2626.6L743.8 2625.6L745.1 2624.8L746.4 2624.3L747.7 2624.1L749.1 2624.0L750.4 2624.1L751.7 2624.0L753.1 2623.7L754.4 2623.2L755.8 2622.3L757.2 2621.2L758.5 2620.0L759.9 2618.8L761.3 2617.8L762.6 2617.0L764.0 2616.5L765.4 2616.3L766.8 2616.3L768.1 2616.3L769.5 2616.2L770.9 2616.0L772.3 2615.4L773.6 2614.6L775.0 2613.5L776.4 2612.3L777.7 2611.1L779.1 2610.1L780.5 2609.4L781.9 2609.0L783.2 2608.8L784.6 2608.8L786.0 2608.9L787.4 2608.8L788.7 2608.5L790.1 2608.0L791.5 2607.1L792.9 2606.0L794.2 2604.9L795.6 2603.7L797.0 2602.8L798.4 2602.1L799.8 2601.8L801.1 2601.7L802.5 2601.8L803.9 2601.8L805.3 2601.8L806.7 2601.5L808.0 2600.9L809.4 2600.0L810.8 2598.9L812.2 2597.7L813.5 2596.6L814.9 2595.7L816.3 2595.0L817.7 2594.7L819.0 2594.6L820.4 2594.6L821.7 2594.7L823.1 2594.5L824.4 2594.2L825.7 2593.6L827.0 2592.7L828.3 2591.6L829.7 2590.4L831.0 2589.3L832.3 2588.3L833.6 2587.6L835.0 2587.2L836.3 2587.0L837.6 2586.9L838.9 2587.0L840.2 2586.9L841.6 2586.6L842.9 2586.0L844.2 2585.2L845.5 2584.1L846.8 2582.9L848.1 2581.7L849.4 2580.7L850.8 2579.8L852.1 2579.2L853.4 2578.9L854.7 2578.8L856.0 2578.7L857.4 2578.6L858.7 2578.4L860.0 2577.9L861.3 2577.1L862.7 2576.0L864.0 2574.8L865.3 2573.5L866.6 2572.3L868.0 2571.2L869.3 2570.5L870.6 2570.0L871.9 2569.7L873.2 2569.6L874.6 2569.5L875.9 2569.3L877.2 2568.8L878.5 2568.1L879.8 2567.1L881.2 2565.9L882.5 2564.6L883.8 2563.3L885.1 2562.2L886.5 2561.4L887.8 2560.8L889.1 2560.5L890.4 2560.3L891.7 2560.3L893.1 2560.1L894.4 2559.8L895.7 2559.3L897.0 2558.4L898.3 2557.3L899.7 2556.1L901.0 2554.8L902.3 2553.7L903.6 2552.8L904.9 2552.1L906.3 2551.7L907.6 2551.5L908.9 2551.5L910.2 2551.4L911.5 2551.2L912.9 2550.7L914.2 2550.0L915.5 2549.0L916.8 2547.8L918.1 2546.5L919.4 2545.3L920.8 2544.3L922.1 2543.5L923.4 2543.0L924.7 2542.7L926.1 2542.6L927.4 2542.5L928.7 2542.3L930.0 2541.9L931.3 2541.2L932.7 2540.3L934.0 2539.1L935.3 2537.8L936.6 2536.5L938.0 2535.4L939.3 2534.5L940.6 2533.8L941.9 2533.4L943.3 2533.2L944.6 2533.1L945.9 2533.0L947.2 2532.7L948.5 2532.1L949.9 2531.2L951.2 2530.1L952.5 2528.9L953.8 2527.6L955.2 2526.4L956.5 2525.4L957.8 2524.6L959.1 2524.2L960.4 2523.9L961.8 2523.8L963.1 2523.7L964.4 2523.4L965.8 2522.9L967.1 2522.1L968.4 2521.1L969.8 2519.8L971.1 2518.5L972.5 2517.2L973.8 2516.1L975.1 2515.2L976.5 2514.7L977.8 2514.4L979.1 2514.3L980.4 2514.2L981.8 2514.0L983.1 2513.6L984.4 2513.0L985.7 2512.1L987.0 2511.0L988.3 2509.8L989.6 2508.7L990.8 2507.6L992.1 2506.8L993.5 2506.3L995.0 2506.0L996.4 2506.1L997.8 2506.2L999.2 2506.3L1000.7 2506.2L1002.1 2505.8L1003.5 2505.1L1004.9 2504.1L1006.3 2503.0L1007.7 2502.0L1009.1 2501.2L1010.4 2500.6L1011.8 2500.3L1013.1 2500.3L1014.5 2500.4L1015.8 2500.5L1017.1 2500.5L1018.3 2500.3L1019.6 2499.8L1021.0 2498.9L1022.4 2497.7L1023.8 2496.4L1025.2 2495.1L1026.6 2493.9L1027.9 2493.0L1029.3 2492.3L1030.6 2492.0L1031.9 2491.7L1033.1 2491.5L1034.4 2491.1L1035.6 2490.5L1036.8 2489.7L1038.0 2488.8L1039.1 2487.8L1040.2 2486.7L1041.5 2485.5L1042.7 2484.3L1043.8 2483.2L1045.0 2482.2L1046.0 2481.2L1047.1 2480.3L1048.1 2479.4L1049.1 2478.5L1050.1 2477.6L1051.1 2476.8L1052.0 2476.0L1053.4 2475.0L1054.6 2474.2L1055.9 2473.5L1057.0 2472.8L1058.2 2471.9L1059.1 2471.0L1060.0 2470.1L1060.9 2469.1L1061.7 2468.2L1062.7 2467.2L1063.7 2466.4L1064.8 2465.8L1066.0 2465.2L1067.2 2464.8L1068.5 2464.3L1069.7 2463.8L1070.9 2463.1L1072.0 2462.3L1072.8 2461.3L1073.5 2460.1L1074.2 2458.7L1074.8 2457.2L1075.4 2455.7L1076.0 2454.2L1076.6 2452.8L1077.3 2451.6L1078.0 2450.6L1078.8 2449.9L1080.1 2449.4L1081.5 2449.2L1082.9 2449.3L1084.4 2449.6L1085.7 2449.9L1086.9 2450.4L1087.9 2451.0L1089.0 2451.8L1090.1 2452.5L1091.2 2453.2L1092.5 2453.9L1093.9 2454.6L1095.3 2455.3L1096.7 2455.7L1098.1 2455.9L1099.4 2455.6L1100.7 2454.8L1102.0 2454.0L1103.2 2453.3L1104.4 2453.2L1105.3 2453.7L1106.1 2454.6L1106.9 2455.8L1107.7 2457.2L1108.5 2458.4L1109.4 2459.4L1110.4 2460.0L1111.6 2460.2L1113.0 2460.2L1114.5 2460.0L1116.0 2459.6L1117.5 2459.0L1118.8 2458.4L1120.0 2457.6L1120.9 2456.8L1121.7 2455.8L1122.4 2454.8L1123.1 2453.6L1123.7 2452.3L1124.3 2451.1L1124.9 2449.8L1125.5 2448.5L1126.1 2447.2L1126.7 2445.8L1127.3 2444.3L1127.9 2442.7L1128.5 2441.2L1129.1 2439.8L1129.7 2438.4L1130.3 2437.2L1131.0 2436.2L1132.1 2435.0L1133.2 2433.9L1134.4 2433.1L1135.7 2432.6L1136.8 2432.4L1137.8 2432.5L1139.0 2432.7L1140.3 2433.0L1141.7 2433.5L1143.4 2433.8L1144.3 2433.9L1145.3 2433.9L1146.3 2433.7L1147.4 2433.4L1148.6 2432.9L1149.8 2432.4L1151.1 2431.9L1152.4 2431.7L1153.8 2431.8L1155.2 2432.4L1156.7 2433.3L1158.2 2434.3L1159.7 2435.1L1161.3 2435.1L1162.8 2434.4L1164.4 2433.0L1166.1 2431.5L1167.7 2430.3L1169.4 2429.7L1171.0 2429.9L1172.7 2430.9L1174.4 2432.3L1176.0 2433.5L1177.7 2434.1L1179.4 2433.9L1181.0 2432.9L1182.6 2431.5L1184.2 2430.1L1185.8 2429.0L1187.4 2428.7L1188.8 2429.1L1190.2 2429.9L1191.6 2431.1L1193.1 2432.3L1194.5 2433.1L1196.0 2433.5L1197.4 2433.1L1198.9 2432.2L1200.3 2431.0L1201.8 2429.7L1203.3 2428.7L1204.8 2428.3L1206.2 2428.6L1207.7 2429.4L1209.2 2430.7L1210.7 2431.9L1212.2 2432.8L1213.7 2433.2L1215.2 2432.8L1216.7 2431.8L1218.2 2430.5L1219.7 2429.2L1221.3 2428.3L1222.8 2428.1L1224.3 2428.5L1225.8 2429.5L1227.3 2430.8L1228.8 2432.0L1230.3 2432.7L1231.8 2432.9L1233.3 2432.3L1234.8 2431.2L1236.3 2429.8L1237.8 2428.6L1239.3 2427.8L1240.8 2427.7L1242.3 2428.3L1243.8 2429.3L1245.3 2430.6L1246.8 2431.7L1248.3 2432.3L1249.9 2432.2L1251.4 2431.4L1252.9 2430.2L1254.5 2428.8L1256.0 2427.6L1257.6 2427.0L1259.1 2427.1L1260.7 2427.9L1262.2 2429.2L1263.8 2430.4L1265.3 2431.3L1266.9 2431.5L1268.4 2431.0L1270.0 2429.9L1271.5 2428.5L1273.1 2427.1L1274.6 2426.3L1276.1 2426.1L1277.6 2426.6L1279.1 2427.6L1280.6 2428.8L1282.1 2429.9L1283.5 2430.5L1285.0 2430.5L1286.4 2429.9L1287.8 2428.8L1289.2 2427.5L1290.6 2426.3L1292.0 2425.4L1293.4 2425.1L1294.7 2425.4L1296.0 2426.1L1297.3 2427.1L1298.9 2428.4L1300.5 2429.3L1302.0 2429.6L1303.5 2429.2L1305.0 2428.2L1306.5 2426.9L1307.9 2425.6L1309.3 2424.5L1310.7 2424.0L1312.1 2424.1L1313.4 2424.7L1314.8 2425.7L1316.2 2426.8L1317.5 2427.8L1318.9 2428.3L1320.3 2428.4L1321.6 2427.8L1323.0 2426.8L1324.4 2425.5L1325.9 2424.3L1327.3 2423.5L1328.8 2423.2L1330.2 2423.6L1331.7 2424.6L1333.1 2425.8L1334.5 2427.1L1336.0 2428.0L1337.5 2428.4L1338.9 2428.2L1340.4 2427.3L1341.9 2426.2L1343.3 2425.0L1344.8 2424.2L1346.3 2423.9L1347.8 2424.4L1349.3 2425.4L1350.8 2426.8L1352.3 2428.2L1353.8 2429.2L1355.3 2429.6L1356.8 2429.3L1358.3 2428.4L1359.8 2427.2L1361.3 2426.1L1362.9 2425.4L1364.4 2425.3L1365.9 2426.0L1367.3 2427.1L1368.8 2428.5L1370.2 2429.7L1371.7 2430.6L1373.2 2430.9L1374.7 2430.5L1376.2 2429.6L1377.7 2428.4L1379.2 2427.3L1380.7 2426.7L1382.2 2426.7L1383.7 2427.3L1385.2 2428.6L1386.7 2430.0L1388.2 2431.3L1389.7 2432.1L1391.2 2432.3L1392.7 2431.8L1394.1 2430.8L1395.6 2429.7L1397.1 2428.7L1398.5 2428.2L1400.0 2428.3L1401.4 2429.0L1402.9 2430.2L1404.3 2431.7L1405.7 2432.9L1407.1 2433.8L1408.6 2434.2L1410.1 2433.8L1411.6 2432.9L1413.1 2431.9L1414.6 2430.9L1416.0 2430.4L1417.5 2430.5L1418.9 2431.2L1420.4 2432.5L1421.8 2434.0L1423.3 2435.4L1424.7 2436.4L1426.1 2436.8L1427.5 2436.6L1428.9 2435.9L1430.3 2435.0L1431.7 2434.0L1433.1 2433.3L1434.5 2433.2L1435.9 2433.6L1437.3 2434.6L1438.6 2435.9L1440.0 2437.3L1441.5 2438.6L1443.0 2439.4L1444.5 2439.5L1446.0 2438.9L1447.4 2438.0L1448.9 2436.9L1450.3 2436.0L1451.8 2435.6L1453.2 2435.8L1454.6 2436.6L1456.1 2437.9L1457.5 2439.3L1458.9 2440.6L1460.3 2441.5L1461.8 2441.7L1463.2 2441.4L1464.6 2440.6L1466.1 2439.5L1467.5 2438.6L1468.9 2438.0L1470.4 2438.1L1471.8 2438.8L1473.3 2440.1L1474.7 2441.6L1476.2 2443.0L1477.6 2444.1L1479.0 2444.7L1480.5 2444.6L1481.9 2444.0L1483.4 2443.0L1484.8 2442.1L1486.2 2441.4L1487.7 2441.4L1489.1 2441.9L1490.6 2443.0L1492.0 2444.5L1493.5 2446.0L1494.9 2447.2L1496.3 2447.8L1497.8 2447.8L1499.2 2447.2L1500.7 2446.2L1502.1 2445.1L1503.6 2444.3L1505.0 2444.0L1506.5 2444.3L1507.9 2445.3L1509.4 2446.6L1510.8 2448.0L1512.3 2449.2L1513.7 2450.0L1515.2 2450.0L1516.6 2449.5L1518.1 2448.5L1519.5 2447.4L1521.0 2446.5L1522.4 2446.0L1523.8 2446.1L1525.3 2446.9L1526.7 2448.1L1528.2 2449.6L1529.6 2450.8L1531.1 2451.7L1532.5 2451.9L1534.0 2451.4L1535.4 2450.5L1536.9 2449.3L1538.3 2448.3L1539.8 2447.7L1541.2 2447.7L1542.7 2448.3L1544.1 2449.4L1545.6 2450.7L1547.0 2451.9L1548.5 2452.8L1549.9 2453.0L1551.3 2452.6L1552.8 2451.6L1554.2 2450.3L1555.7 2449.1L1557.1 2448.2L1558.6 2447.9L1560.0 2448.3L1561.5 2449.1L1562.9 2450.3L1564.4 2451.4L1565.8 2452.3L1567.3 2452.5L1568.7 2452.1L1570.2 2451.1L1571.6 2449.8L1573.1 2448.4L1574.5 2447.4L1576.0 2446.8L1577.4 2446.9L1578.8 2447.6L1580.3 2448.7L1581.7 2449.8L1583.2 2450.7L1584.6 2451.0L1586.1 2450.7L1587.5 2449.7L1589.0 2448.4L1590.4 2447.0L1591.8 2445.7L1593.3 2445.0L1594.7 2444.9L1596.2 2445.4L1597.6 2446.3L1599.1 2447.3L1600.5 2448.2L1601.9 2448.5L1603.4 2448.3L1604.8 2447.4L1606.3 2446.0L1607.7 2444.5L1609.2 2443.0L1610.6 2442.0L1612.1 2441.6L1613.5 2441.9L1615.0 2442.6L1616.4 2443.5L1617.9 2444.3L1619.3 2444.7L1620.8 2444.5L1622.2 2443.6L1623.7 2442.2L1625.1 2440.5L1626.5 2438.9L1628.0 2437.7L1629.4 2437.1L1630.9 2437.1L1632.3 2437.6L1633.7 2438.3L1635.1 2439.1L1636.5 2439.5L1637.8 2439.4L1639.2 2438.7L1640.6 2437.5L1642.0 2435.9L1643.3 2434.2L1644.7 2432.6L1646.1 2431.5L1647.5 2431.0L1648.8 2431.0L1650.2 2431.5L1651.6 2432.1L1653.0 2432.7L1654.3 2433.0L1655.7 2432.7L1657.1 2431.9L1658.4 2430.6L1659.8 2428.9L1661.2 2427.1L1662.6 2425.6L1663.9 2424.5L1665.3 2423.9L1666.7 2423.9L1668.1 2424.4L1669.4 2425.0L1670.8 2425.5L1672.2 2425.6L1673.6 2425.2L1674.9 2424.3L1676.3 2422.8L1677.7 2421.0L1679.1 2419.3L1680.4 2417.7L1681.8 2416.7L1683.2 2416.2L1684.5 2416.3L1685.9 2416.7L1687.3 2417.4L1688.7 2417.9L1690.0 2418.0L1691.4 2417.6L1692.8 2416.6L1694.1 2415.2L1695.5 2413.5L1696.9 2411.7L1698.3 2410.3L1699.6 2409.4L1701.0 2409.0L1702.4 2409.2L1703.7 2409.8L1705.1 2410.4L1706.5 2410.9L1707.9 2411.0L1709.2 2410.5L1710.6 2409.5L1712.0 2408.0L1713.3 2406.2L1714.7 2404.5L1716.0 2403.1L1717.3 2402.2L1718.6 2401.8L1720.0 2401.9L1721.3 2402.3L1722.6 2402.9L1723.9 2403.4L1725.2 2403.6L1726.5 2403.2L1727.8 2402.3L1729.2 2400.9L1730.5 2399.3L1731.8 2397.5L1733.1 2396.0L1734.4 2394.8L1735.7 2394.1L1737.0 2393.9L1738.3 2394.1L1739.6 2394.6L1740.9 2395.1L1742.2 2395.4L1743.5 2395.2L1744.9 2394.5L1746.2 2393.2L1747.5 2391.5L1748.8 2389.6L1750.2 2387.8L1751.5 2386.2L1752.8 2385.1L1754.1 2384.6L1755.5 2384.6L1756.8 2384.9L1758.1 2385.3L1759.4 2385.5L1760.7 2385.4L1762.0 2384.9L1763.3 2383.8L1764.6 2382.3L1765.9 2380.5L1767.2 2378.7L1768.4 2377.1L1769.7 2375.9L1771.1 2375.2L1772.5 2375.0L1773.9 2375.2L1775.3 2375.8L1776.7 2376.1L1778.1 2376.0L1779.5 2375.4L1780.9 2374.3L1782.3 2373.0L1783.7 2371.7L1785.0 2370.5L1786.3 2369.6L1787.5 2369.1L1788.7 2368.7L1789.9 2368.6L1791.0 2368.5L1792.0 2368.4L1793.6 2368.3L1795.0 2368.2L1796.4 2368.3L1797.7 2368.4L1798.9 2368.3L1800.0 2367.9L1801.1 2367.0L1802.0 2365.8L1802.8 2364.4L1803.6 2363.0L1804.5 2361.9L1805.5 2361.3L1806.7 2361.4L1807.9 2361.9L1809.3 2362.8L1810.6 2363.6L1812.0 2364.2L1813.2 2364.2L1814.1 2363.7L1815.0 2362.8L1815.8 2361.5L1816.6 2360.1L1817.4 2358.7L1818.2 2357.3L1819.0 2356.1L1819.9 2355.2L1820.9 2354.7L1822.0 2354.8L1823.2 2355.3L1824.5 2356.2L1825.8 2357.3L1827.1 2358.3L1828.4 2359.2L1829.6 2359.7L1830.8 2359.8L1831.8 2359.3L1832.7 2358.5L1833.6 2357.3L1834.4 2355.9L1835.2 2354.4L1836.1 2352.9L1836.9 2351.5L1837.8 2350.4L1838.7 2349.6L1839.6 2349.2L1840.6 2349.4L1841.7 2350.1L1842.8 2351.1L1844.0 2352.3L1845.1 2353.7L1846.2 2354.9L1847.3 2356.0L1848.4 2356.7L1849.5 2356.9L1850.5 2356.5L1851.5 2355.7L1852.5 2354.5L1853.5 2353.1L1854.5 2351.7L1855.5 2350.3L1856.4 2349.1L1857.3 2348.4L1858.2 2348.1L1859.2 2348.4L1860.3 2349.2L1861.3 2350.4L1862.3 2351.8L1863.2 2353.2L1864.1 2354.6L1864.8 2355.8L1865.4 2357.1L1865.9 2358.5L1866.4 2359.9L1866.8 2360.9L1867.5 2361.3L1868.1 2361.0L1868.8 2360.2L1869.6 2359.0L1870.5 2357.5L1871.4 2355.9L1872.3 2354.3L1873.2 2352.7L1874.1 2351.5L1875.0 2350.6L1875.8 2350.3L1876.8 2350.7L1877.7 2351.6L1878.6 2353.0L1879.5 2354.5L1880.5 2356.0L1881.4 2357.3L1882.4 2358.0L1883.8 2358.4L1885.2 2358.4L1886.6 2358.1L1887.9 2357.6L1888.9 2356.7L1889.9 2355.4L1890.8 2353.8L1891.7 2352.4L1892.6 2351.3L1893.4 2351.0L1894.1 2351.4L1894.7 2352.5L1895.3 2353.9L1895.8 2355.5L1896.4 2357.3L1897.0 2358.9L1897.8 2360.2L1898.6 2361.3L1899.4 2362.3L1900.3 2363.3L1901.3 2364.3L1902.3 2365.1L1903.3 2365.8L1904.4 2366.4L1905.8 2366.7L1907.3 2366.6L1908.9 2366.4L1910.4 2366.2L1911.9 2366.3L1913.2 2366.8L1914.0 2367.5L1914.6 2368.5L1915.2 2369.8L1915.7 2371.2L1916.1 2372.7L1916.6 2374.3L1917.0 2375.9L1917.4 2377.4L1917.9 2378.9L1918.5 2380.2L1919.1 2381.3L1919.8 2382.2L1921.0 2382.9L1922.3 2383.3L1923.7 2383.5L1925.1 2383.7L1926.4 2384.1L1927.5 2384.8L1928.2 2385.7L1928.9 2386.7L1929.5 2387.9L1930.0 2389.3L1930.5 2390.7L1930.9 2392.3L1931.3 2393.8L1931.7 2395.4L1932.1 2396.9L1932.6 2398.4L1933.0 2399.8L1933.4 2401.3L1933.8 2402.8L1934.2 2404.4L1934.5 2406.0L1934.8 2407.6L1935.2 2409.2L1935.6 2410.6L1936.1 2411.9L1936.7 2413.1L1937.4 2414.1L1938.5 2415.0L1939.8 2415.6L1941.2 2416.1L1942.6 2416.5L1944.0 2417.0L1945.1 2417.8L1945.9 2418.7L1946.7 2419.8L1947.3 2420.9L1947.9 2422.1L1948.4 2423.4L1949.0 2424.8L1949.5 2426.2L1949.9 2427.4L1950.3 2428.6L1950.6 2430.0L1950.8 2431.4L1951.1 2432.8L1951.4 2434.3L1951.7 2435.7L1952.0 2437.2L1952.3 2438.6L1952.7 2440.0L1953.2 2441.4L1953.8 2442.6L1954.5 2443.8L1955.3 2445.0L1956.2 2446.1L1957.2 2447.1L1958.2 2448.1L1959.2 2449.1L1960.2 2450.2L1961.2 2451.2L1962.1 2452.3L1963.0 2453.5L1963.7 2454.7L1964.3 2455.9L1964.9 2457.2L1965.4 2458.6L1965.8 2459.9L1966.2 2461.4L1966.6 2462.8L1967.0 2464.3L1967.4 2465.7L1967.7 2467.1L1968.1 2468.5L1968.4 2469.8L1968.8 2471.1L1969.2 2472.3L1969.8 2473.8L1970.3 2475.3L1970.8 2476.6L1971.4 2477.9L1971.9 2479.2L1972.4 2480.6L1973.0 2482.0L1973.5 2483.3L1974.0 2484.7L1974.5 2486.2L1975.0 2487.6L1975.5 2489.1L1976.1 2490.5L1976.6 2491.9L1977.1 2493.1L1977.7 2494.3L1978.5 2495.6L1979.3 2496.7L1980.1 2497.8L1980.9 2498.9L1981.7 2500.4L1982.1 2501.5L1982.5 2502.6L1983.0 2503.9L1983.3 2505.3L1983.7 2506.7L1984.1 2508.2L1984.5 2509.7L1984.8 2511.3L1985.1 2512.9L1985.5 2514.5L1985.8 2516.0L1986.1 2517.6L1986.5 2519.2L1986.8 2520.7L1987.1 2522.1L1987.3 2523.5L1987.6 2524.9L1987.8 2526.3L1988.0 2527.8L1988.2 2529.3L1988.4 2530.7L1988.6 2532.2L1988.8 2533.6L1989.1 2535.1L1989.3 2536.5L1989.6 2537.9L1989.9 2539.2L1990.2 2540.6L1990.5 2541.9L1990.9 2543.1L1991.4 2544.6L1992.0 2545.9L1992.7 2547.3L1993.4 2548.6L1994.1 2549.8L1994.9 2551.1L1995.6 2552.3L1996.3 2553.6L1996.9 2554.8L1997.5 2556.1L1998.0 2557.4L1998.5 2558.8L1998.9 2560.1L1999.2 2561.5L1999.5 2562.8L1999.8 2564.2L2000.0 2565.5L2000.3 2567.0L2000.5 2568.4L2000.8 2570.0L2001.1 2571.6L2001.3 2572.8L2001.5 2574.1L2001.7 2575.3L2001.9 2576.7L2002.1 2578.1L2002.3 2579.5L2002.5 2580.9L2002.7 2582.3L2002.9 2583.8L2003.1 2585.3L2003.3 2586.8L2003.5 2588.3L2003.7 2589.8L2003.9 2591.3L2004.1 2592.8L2004.3 2594.3L2004.5 2595.8L2004.7 2597.3L2005.0 2598.7L2005.2 2600.1L2005.5 2601.6L2005.7 2603.1L2006.0 2604.6L2006.2 2606.2L2006.5 2607.7L2006.7 2609.2L2007.0 2610.7L2007.3 2612.2L2007.6 2613.7L2007.8 2615.2L2008.1 2616.7L2008.4 2618.2L2008.7 2619.6L2009.0 2621.1L2009.3 2622.5L2009.6 2623.9L2009.9 2625.3L2010.2 2626.6L2010.6 2628.1L2011.0 2629.6L2011.4 2631.1L2011.8 2632.5L2012.2 2633.9L2012.6 2635.3L2013.0 2636.6L2013.4 2638.0L2013.8 2639.4L2014.2 2640.7L2014.6 2642.1L2015.0 2643.5L2015.3 2644.9L2015.6 2646.3L2015.9 2647.7L2016.2 2649.0L2016.4 2650.4L2016.7 2651.7L2016.9 2653.1L2017.1 2654.5L2017.3 2655.9L2017.6 2657.3L2017.8 2658.7L2018.0 2660.2L2018.2 2661.7L2018.4 2663.3L2018.6 2664.6L2018.7 2665.9L2018.9 2667.2L2019.0 2668.6L2019.2 2670.0L2019.3 2671.4L2019.4 2672.9L2019.6 2674.4L2019.7 2675.8L2019.8 2677.3L2020.0 2678.8L2020.1 2680.3L2020.2 2681.8L2020.4 2683.4L2020.5 2684.9L2020.6 2686.4L2020.8 2687.9L2020.9 2689.4L2021.1 2690.9L2021.2 2692.3L2021.4 2693.8L2021.6 2695.3L2021.7 2696.7L2021.9 2698.2L2022.1 2699.6L2022.3 2701.0L2022.4 2702.5L2022.6 2703.9L2022.8 2705.4L2023.0 2706.8L2023.2 2708.3L2023.4 2709.7L2023.6 2711.2L2023.8 2712.6L2024.0 2714.1L2024.2 2715.5L2024.4 2717.0L2024.6 2718.4L2024.8 2719.9L2025.0 2721.4L2025.3 2722.8L2025.5 2724.3L2025.7 2725.7L2026.0 2727.1L2026.2 2728.5L2026.5 2729.9L2026.7 2731.3L2027.0 2732.7L2027.3 2734.1L2027.6 2735.6L2027.8 2737.0L2028.1 2738.4L2028.4 2739.8L2028.7 2741.2L2029.0 2742.7L2029.3 2744.1L2029.6 2745.5L2029.8 2746.9L2030.1 2748.4L2030.4 2749.8L2030.6 2751.2L2030.9 2752.6L2031.1 2754.1L2031.4 2755.5L2031.6 2756.9L2031.8 2758.4L2032.1 2759.9L2032.3 2761.3L2032.5 2762.8L2032.7 2764.3L2032.9 2765.8L2033.1 2767.3L2033.3 2768.7L2033.5 2770.2L2033.7 2771.7L2033.8 2773.2L2034.0 2774.7L2034.2 2776.2L2034.4 2777.6L2034.5 2779.1L2034.7 2780.6L2034.9 2782.1L2035.0 2783.6L2035.2 2785.1L2035.4 2786.5L2035.5 2788.0L2035.7 2789.5L2035.9 2791.0L2036.0 2792.5L2036.2 2793.9L2036.3 2795.4L2036.5 2796.9L2036.6 2798.4L2036.7 2799.8L2036.9 2801.3L2037.0 2802.8L2037.1 2804.3L2037.3 2805.7L2037.4 2807.2L2037.5 2808.7L2037.7 2810.2L2037.8 2811.7L2037.9 2813.1L2038.1 2814.6L2038.2 2816.1L2038.3 2817.6L2038.5 2819.1L2038.6 2820.6L2038.8 2822.1L2039.0 2823.5L2039.1 2825.0L2039.3 2826.4L2039.4 2827.8L2039.6 2829.3L2039.7 2830.7L2039.9 2832.2L2040.1 2833.6L2040.2 2835.1L2040.4 2836.6L2040.6 2838.0L2040.7 2839.5L2040.9 2840.9L2041.1 2842.4L2041.2 2843.8L2041.4 2845.3L2041.6 2846.7L2041.8 2848.2L2041.9 2849.6L2042.1 2851.0L2042.3 2852.5L2042.5 2853.9L2042.6 2855.3L2042.8 2856.7L2043.0 2858.2L2043.2 2859.7L2043.4 2861.2L2043.6 2862.6L2043.8 2864.1L2044.0 2865.6L2044.2 2867.0L2044.4 2868.5L2044.6 2869.9L2044.8 2871.4L2045.0 2872.8L2045.2 2874.3L2045.4 2875.7L2045.6 2877.2L2045.8 2878.6L2046.0 2880.1L2046.2 2881.5L2046.4 2882.9L2046.5 2884.4L2046.7 2885.8L2046.9 2887.3L2047.1 2888.8L2047.2 2890.2L2047.4 2891.7L2047.6 2893.1L2047.7 2894.6L2047.9 2896.0L2048.0 2897.5L2048.2 2898.9L2048.3 2900.4L2048.4 2901.8L2048.6 2903.3L2048.7 2904.7L2048.9 2906.2L2049.0 2907.6L2049.2 2909.1L2049.3 2910.5L2049.4 2912.0L2049.6 2913.4L2049.7 2914.9L2049.9 2916.3L2050.0 2917.8L2050.1 2919.3L2050.3 2920.7L2050.4 2922.2L2050.6 2923.6L2050.7 2925.0L2050.9 2926.5L2051.0 2927.9L2051.2 2929.4L2051.3 2930.8L2051.4 2932.3L2051.6 2933.7L2051.7 2935.2L2051.9 2936.6L2052.0 2938.1L2052.1 2939.5L2052.3 2941.0L2052.4 2942.5L2052.6 2943.9L2052.7 2945.4L2052.9 2946.8L2053.0 2948.3L2053.1 2949.7L2053.3 2951.1L2053.4 2952.6L2053.6 2954.0L2053.7 2955.4L2053.8 2956.8L2054.0 2958.2L2054.1 2959.7L2054.3 2961.1L2054.4 2962.5L2054.5 2963.9L2054.7 2965.4L2054.8 2966.8L2054.9 2968.2L2055.1 2969.7L2055.2 2971.1L2055.4 2972.6L2055.5 2974.1L2055.6 2975.5L2055.7 2977.0L2055.9 2978.5L2056.0 2980.0L2056.1 2981.4L2056.2 2982.8L2056.3 2984.2L2056.4 2985.6L2056.5 2987.0L2056.6 2988.5L2056.7 2989.9L2056.8 2991.3L2056.9 2992.8L2057.0 2994.2L2057.1 2995.7L2057.2 2997.1L2057.3 2998.6L2057.4 3000.1L2057.4 3001.5L2057.5 3003.0L2057.6 3004.5L2057.7 3005.9L2057.8 3007.4L2058.0 3008.9L2058.1 3010.3L2058.2 3011.8L2058.3 3013.2L2058.4 3014.7L2058.6 3016.2L2058.7 3017.6L2058.8 3019.0L2059.0 3020.5L2059.2 3021.9L2059.3 3023.4L2059.5 3024.8L2059.6 3026.3L2059.8 3027.7L2060.0 3029.2L2060.2 3030.6L2060.4 3032.1L2060.5 3033.5L2060.7 3035.0L2060.9 3036.4L2061.1 3037.9L2061.3 3039.3L2061.5 3040.7L2061.7 3042.2L2061.9 3043.6L2062.1 3045.1L2062.3 3046.5L2062.5 3048.0L2062.7 3049.4L2062.8 3050.9L2063.0 3052.3L2063.2 3053.8L2063.4 3055.2L2063.6 3056.6L2063.8 3058.1L2063.9 3059.5L2064.1 3061.0L2064.3 3062.4L2064.5 3063.9L2064.7 3065.3L2064.8 3066.8L2065.0 3068.2L2065.2 3069.7L2065.4 3071.1L2065.6 3072.6L2065.8 3074.0L2065.9 3075.4L2066.1 3076.9L2066.3 3078.3L2066.5 3079.8L2066.7 3081.2L2066.8 3082.7L2067.0 3084.1L2067.2 3085.6L2067.4 3087.0L2067.6 3088.5L2067.7 3089.9L2067.9 3091.4L2068.1 3092.8L2068.3 3094.2L2068.5 3095.7L2068.6 3097.2L2068.8 3098.6L2069.0 3100.1L2069.2 3101.5L2069.4 3103.0L2069.6 3104.4L2069.8 3105.9L2069.9 3107.4L2070.1 3108.8L2070.3 3110.3L2070.5 3111.7L2070.7 3113.2L2070.9 3114.6L2071.0 3116.1L2071.2 3117.5L2071.4 3119.0L2071.6 3120.4L2071.8 3121.9L2071.9 3123.3L2072.1 3124.7L2072.3 3126.2L2072.5 3127.6L2072.6 3129.0L2072.8 3130.4L2073.0 3131.9L2073.1 3133.4L2073.3 3135.0L2073.5 3136.5L2073.6 3138.1L2073.8 3139.6L2074.0 3141.1L2074.1 3142.7L2074.3 3144.2L2074.4 3145.8L2074.6 3147.3L2074.7 3148.8L2074.9 3150.3L2075.0 3151.8L2075.2 3153.3L2075.4 3154.7L2075.5 3156.1L2075.7 3157.6L2075.9 3158.9L2076.0 3160.3L2076.2 3161.6L2076.4 3162.9L2076.6 3164.2L2076.9 3165.8L2077.1 3167.4L2077.4 3168.9L2077.7 3170.3L2078.0 3171.7L2078.3 3173.1L2078.6 3174.4L2078.9 3175.8L2079.2 3177.2L2079.5 3178.5L2079.8 3180.0L2080.1 3181.5L2080.3 3183.0L2080.5 3184.4L2080.7 3185.7L2080.8 3187.2L2081.0 3188.6L2081.2 3190.1L2081.3 3191.5L2081.4 3193.0L2081.6 3194.5L2081.7 3196.0L2081.9 3197.6L2082.0 3199.1L2082.1 3200.6L2082.3 3202.1L2082.4 3203.6L2082.6 3205.1L2082.7 3206.5L2082.9 3208.0L2083.1 3209.4L2083.3 3210.9L2083.5 3212.3L2083.7 3213.8L2084.0 3215.2L2084.2 3216.7L2084.4 3218.1L2084.7 3219.5L2084.9 3220.9L2085.2 3222.3L2085.4 3223.7L2085.7 3225.1L2085.9 3226.5L2086.2 3227.9L2086.4 3229.2L2086.7 3230.6L2086.9 3231.9L2087.2 3233.4L2087.4 3234.8L2087.7 3236.2L2088.0 3237.6L2088.3 3239.0L2088.5 3240.4L2088.8 3241.8L2089.1 3243.1L2089.4 3244.5L2089.7 3245.9L2089.9 3247.2L2090.2 3248.6L2090.5 3250.0" fill="none" stroke="#000" stroke-width="3.9" stroke-linejoin="round" shape-rendering="crispEdges"/>
<rect x="210" y="2059" width="1883" height="1389" fill="none" stroke="#000" stroke-width="8"/>
<path d="M212.4 3447.3L212.6 3445.9L212.9 3444.4L213.1 3443.0L213.4 3441.5L213.6 3440.1L213.8 3438.7L214.1 3437.2L214.3 3435.8L214.5 3434.4L214.8 3432.9L215.0 3431.5L215.3 3430.0L215.5 3428.6L215.8 3427.1L216.0 3425.6L216.2 3424.1L216.5 3422.6L216.7 3421.2L216.9 3419.9L217.2 3418.5L217.4 3417.1L217.6 3415.7L217.8 3414.3L218.1 3412.9L218.3 3411.5L218.5 3410.1L218.7 3408.6L219.0 3407.2L219.2 3405.8L219.4 3404.3L219.7 3402.9L219.9 3401.5L220.2 3400.0L220.4 3398.6L220.6 3397.2L220.9 3395.8L221.1 3394.4L221.4 3393.0L221.7 3391.6L221.9 3390.1L222.2 3388.7L222.5 3387.3L222.8 3385.9L223.1 3384.5L223.4 3383.0L223.7 3381.6L224.0 3380.2L224.3 3378.8L224.6 3377.4L224.9 3376.0L225.2 3374.6L225.5 3373.2L225.8 3371.8L226.1 3370.4L226.4 3369.0L226.6 3367.6L226.9 3366.3L227.2 3364.9L227.5 3363.4L227.8 3361.9L228.1 3360.4L228.4 3358.9L228.7 3357.4L228.9 3356.0L229.2 3354.5L229.5 3353.0L229.8 3351.5L230.1 3350.1L230.3 3348.6L230.6 3347.2L230.9 3345.8L231.2 3344.4L231.5 3343.0L231.8 3341.6L232.1 3340.2L232.4 3338.7L232.8 3337.2L233.1 3335.6L233.4 3334.1L233.8 3332.6L234.1 3331.1L234.5 3329.6L234.8 3328.1L235.2 3326.7L235.6 3325.3L235.9 3324.0L236.3 3322.7L236.7 3321.5L237.1 3320.4L237.6 3319.0L238.2 3317.6L238.7 3316.2L239.3 3315.0L239.9 3313.9L240.5 3313.0L241.2 3312.2L242.3 3311.2L243.4 3310.6L244.5 3310.5L245.2 3310.9L246.0 3311.8L246.7 3313.0L247.3 3314.3L248.0 3315.7L248.6 3317.1L249.1 3318.2L249.5 3319.4L250.0 3320.6L250.4 3321.9L250.8 3323.3L251.2 3324.7L251.5 3326.1L251.9 3327.5L252.3 3328.9L252.7 3330.3L253.1 3331.6L253.4 3333.0L253.8 3334.5L254.1 3335.9L254.4 3337.4L254.8 3338.9L255.1 3340.4L255.4 3341.8L255.8 3343.2L256.1 3344.5L256.5 3345.7L256.9 3346.8L257.5 3348.4L258.2 3349.9L258.8 3351.3L259.5 3352.5L260.2 3353.4L261.4 3354.6L262.6 3355.0L263.5 3354.5L264.3 3353.3L265.1 3351.8L265.9 3350.1L266.3 3349.1L266.7 3347.9L267.1 3346.7L267.4 3345.4L267.8 3344.0L268.1 3342.5L268.4 3341.0L268.8 3339.5L269.1 3338.0L269.4 3336.5L269.8 3335.0L270.1 3333.6L270.4 3332.2L270.8 3330.8L271.1 3329.4L271.5 3328.0L271.8 3326.6L272.1 3325.2L272.5 3323.8L272.8 3322.5L273.1 3321.1L273.5 3319.7L273.8 3318.4L274.2 3317.1L274.6 3315.7L275.0 3314.3L275.4 3313.0L275.7 3311.6L276.1 3310.3L276.5 3308.9L277.0 3307.6L277.4 3306.4L277.8 3305.1L278.3 3303.9L278.8 3302.5L279.4 3301.2L280.0 3299.8L280.6 3298.5L281.2 3297.3L281.8 3296.1L282.5 3295.0L283.2 3294.0L284.1 3293.0L285.2 3292.2L286.2 3291.5L287.2 3290.7L288.2 3289.9L289.1 3289.0L290.0 3288.1L290.8 3287.2L291.6 3286.2L292.3 3285.0L292.9 3283.9L293.4 3282.8L293.9 3281.5L294.3 3280.2L294.8 3278.8L295.2 3277.3L295.6 3275.8L296.0 3274.2L296.4 3272.6L296.7 3271.4L297.0 3270.1L297.2 3268.8L297.5 3267.5L297.8 3266.1L298.0 3264.7L298.2 3263.3L298.5 3261.8L298.7 3260.4L298.9 3258.9L299.2 3257.3L299.4 3255.8L299.6 3254.2L299.8 3252.7L300.1 3251.1L300.3 3249.5L300.5 3247.9L300.7 3246.6L300.9 3245.2L301.0 3243.9L301.2 3242.5L301.4 3241.1L301.6 3239.7L301.7 3238.2L301.9 3236.8L302.1 3235.4L302.2 3233.9L302.4 3232.4L302.6 3230.9L302.7 3229.4L302.9 3228.0L303.1 3226.5L303.2 3225.0L303.4 3223.5L303.6 3222.0L303.7 3220.5L303.9 3219.0L304.0 3217.5L304.2 3216.0L304.4 3214.5L304.5 3213.1L304.7 3211.6L304.9 3210.2L305.0 3208.7L305.2 3207.3L305.4 3205.8L305.5 3204.4L305.7 3202.9L305.8 3201.5L306.0 3200.0L306.2 3198.6L306.3 3197.2L306.5 3195.7L306.6 3194.3L306.8 3192.8L307.0 3191.4L307.1 3189.9L307.3 3188.5L307.4 3187.0L307.6 3185.6L307.8 3184.1L307.9 3182.7L308.1 3181.2L308.3 3179.8L308.4 3178.3L308.6 3176.9L308.8 3175.4L309.0 3174.0L309.2 3172.5L309.3 3171.0L309.5 3169.6L309.7 3168.1L309.9 3166.6L310.1 3165.2L310.2 3163.7L310.4 3162.2L310.6 3160.7L310.8 3159.2L311.0 3157.8L311.2 3156.3L311.4 3154.8L311.5 3153.3L311.7 3151.9L311.9 3150.4L312.1 3148.9L312.3 3147.5L312.5 3146.0L312.7 3144.6L312.9 3143.1L313.1 3141.7L313.3 3140.3L313.5 3138.9L313.7 3137.5L313.9 3136.0L314.1 3134.5L314.3 3133.1L314.6 3131.6L314.8 3130.1L315.0 3128.7L315.2 3127.2L315.4 3125.8L315.6 3124.4L315.8 3123.0L316.1 3121.5L316.3 3120.1L316.5 3118.7L316.7 3117.3L317.0 3115.9L317.2 3114.5L317.4 3113.1L317.7 3111.7L317.9 3110.3L318.2 3108.9L318.4 3107.5L318.7 3106.1L319.0 3104.7L319.3 3103.2L319.6 3101.8L319.9 3100.4L320.2 3098.9L320.5 3097.5L320.8 3096.1L321.1 3094.6L321.5 3093.2L321.8 3091.8L322.1 3090.4L322.4 3089.0L322.8 3087.5L323.1 3086.1L323.4 3084.7L323.8 3083.4L324.1 3082.0L324.4 3080.6L324.7 3079.2L325.0 3077.9L325.3 3076.5L325.6 3075.0L325.9 3073.5L326.2 3071.9L326.5 3070.4L326.8 3068.9L327.1 3067.4L327.4 3065.9L327.6 3064.4L327.9 3063.0L328.2 3061.5L328.5 3060.0L328.8 3058.6L329.1 3057.2L329.4 3055.7L329.8 3054.3L330.1 3053.0L330.5 3051.6L330.9 3050.1L331.4 3048.7L331.8 3047.3L332.3 3045.9L332.7 3044.5L333.2 3043.1L333.7 3041.8L334.2 3040.4L334.7 3039.1L335.3 3037.7L335.8 3036.4L336.3 3035.1L336.9 3033.7L337.4 3032.4L337.9 3031.1L338.5 3029.8L339.0 3028.5L339.5 3027.2L340.1 3025.9L340.6 3024.6L341.2 3023.4L341.7 3022.1L342.3 3020.8L342.9 3019.6L343.6 3018.3L344.2 3017.0L344.9 3015.8L345.6 3014.5L346.4 3013.2L347.1 3012.0L348.0 3010.8L348.8 3009.6L349.6 3008.5L350.5 3007.4L351.4 3006.3L352.3 3005.3L353.3 3004.2L354.2 3003.0L355.1 3001.8L356.1 3000.4L357.0 2999.1L358.0 2997.8L358.9 2996.6L359.9 2995.4L360.8 2994.4L361.8 2993.4L362.7 2992.5L363.7 2991.6L364.7 2990.6L365.7 2989.5L366.7 2988.3L367.7 2987.0L368.8 2985.7L369.8 2984.4L370.9 2983.2L372.0 2982.2L373.1 2981.3L374.2 2980.6L375.3 2979.9L376.5 2979.2L377.6 2978.4L378.8 2977.4L380.0 2976.3L381.2 2975.1L382.4 2974.1L383.7 2973.2L384.9 2972.5L386.2 2971.9L387.4 2971.4L388.6 2970.8L389.9 2970.0L391.1 2969.0L392.3 2968.0L393.5 2966.9L394.7 2965.9L395.9 2965.0L397.0 2964.3L398.2 2963.8L399.4 2963.2L400.6 2962.6L401.7 2961.9L402.9 2961.0L404.1 2960.0L405.3 2959.0L406.5 2958.0L407.8 2957.2L409.0 2956.6L410.2 2956.1L411.5 2955.7L412.7 2955.2L414.0 2954.6L415.2 2953.9L416.5 2953.0L417.8 2952.0L419.1 2951.2L420.4 2950.6L421.7 2950.2L423.0 2949.9L424.3 2949.6L425.6 2949.2L426.9 2948.5L428.3 2947.7L429.6 2946.8L430.9 2946.0L432.2 2945.4L433.5 2945.0L434.9 2944.7L436.2 2944.4L437.6 2943.9L438.9 2943.3L440.3 2942.5L441.7 2941.6L443.0 2940.7L444.4 2940.1L445.7 2939.7L447.1 2939.4L448.5 2939.2L449.9 2938.8L451.3 2938.1L452.7 2937.4L454.1 2936.6L455.5 2935.9L456.9 2935.4L458.3 2935.2L459.8 2935.2L461.2 2935.0L462.7 2934.7L464.2 2934.1L465.7 2933.4L467.2 2932.8L468.7 2932.4L470.1 2932.2L471.6 2932.2L473.1 2932.2L474.6 2931.9L476.0 2931.4L477.4 2930.8L478.8 2930.2L480.2 2929.8L481.6 2929.5L483.1 2929.5L484.5 2929.5L485.8 2929.4L487.2 2929.1L488.5 2928.6L489.9 2928.1L491.2 2927.5L492.6 2927.2L493.9 2927.0L495.3 2927.0L496.7 2926.9L498.1 2926.7L499.5 2926.2L500.8 2925.5L502.1 2924.7L503.5 2924.0L504.8 2923.4L506.2 2923.0L507.5 2922.7L508.9 2922.5L510.3 2922.0L511.7 2921.3L513.1 2920.4L514.5 2919.5L515.8 2918.7L517.2 2918.1L518.6 2917.7L520.0 2917.4L521.4 2917.1L522.8 2916.7L524.2 2916.0L525.6 2915.2L526.9 2914.5L528.3 2913.8L529.7 2913.4L531.1 2913.1L532.4 2913.0L533.8 2912.8L535.2 2912.4L536.6 2911.7L538.0 2911.0L539.4 2910.3L540.7 2909.8L542.1 2909.5L543.5 2909.3L544.8 2909.3L546.2 2909.1L547.6 2908.8L548.9 2908.2L550.4 2907.5L551.9 2906.9L553.4 2906.6L554.9 2906.5L556.4 2906.6L557.8 2906.6L559.3 2906.4L560.8 2906.0L562.3 2905.4L563.7 2904.9L565.2 2904.6L566.6 2904.5L568.1 2904.6L569.5 2904.7L570.9 2904.5L572.4 2904.2L573.9 2903.6L575.3 2903.0L576.7 2902.6L578.1 2902.4L579.6 2902.4L581.0 2902.5L582.4 2902.5L583.8 2902.2L585.3 2901.7L586.8 2901.0L588.4 2900.4L590.0 2900.1L591.3 2900.0L592.5 2900.0L593.8 2899.9L595.1 2899.6L596.5 2899.2L597.8 2898.6L599.2 2897.8L600.5 2897.2L601.9 2896.8L603.3 2896.6L604.8 2896.5L606.2 2896.4L607.6 2896.0L609.1 2895.4L610.6 2894.7L612.0 2894.0L613.5 2893.5L615.1 2893.3L616.6 2893.3L618.1 2893.3L619.6 2893.0L621.2 2892.6L622.6 2892.0L623.9 2891.5L625.3 2891.2L626.7 2891.1L628.1 2891.1L629.5 2891.3L631.0 2891.3L632.4 2891.1L633.9 2890.7L635.4 2890.2L636.8 2889.8L638.3 2889.7L639.8 2889.8L641.3 2890.0L642.8 2890.1L644.3 2890.0L645.9 2889.6L647.4 2889.2L648.9 2888.8L650.4 2888.7L652.0 2888.8L653.5 2889.0L655.1 2889.2L656.6 2889.0L658.2 2888.6L659.7 2888.1L661.3 2887.8L662.8 2887.7L664.4 2887.8L665.9 2888.0L667.3 2888.1L668.8 2887.9L670.2 2887.5L671.7 2887.1L673.2 2886.7L674.6 2886.6L676.1 2886.7L677.6 2886.9L679.1 2887.0L680.7 2886.9L682.2 2886.5L683.7 2886.0L685.2 2885.6L686.7 2885.5L688.3 2885.6L689.8 2885.8L691.3 2885.9L692.8 2885.8L694.4 2885.4L695.9 2884.9L697.4 2884.5L698.9 2884.4L700.4 2884.5L701.9 2884.7L703.3 2884.8L704.8 2884.7L706.3 2884.3L707.7 2883.9L709.1 2883.5L710.6 2883.3L712.0 2883.3L713.3 2883.4L714.7 2883.6L716.1 2883.6L717.4 2883.4L719.0 2882.9L720.5 2882.4L722.0 2882.0L723.5 2882.0L725.0 2882.1L726.4 2882.2L727.9 2882.2L729.3 2882.0L730.7 2881.6L732.1 2881.1L733.5 2880.7L734.9 2880.5L736.3 2880.5L737.6 2880.7L739.0 2880.8L740.4 2880.7L741.8 2880.4L743.2 2880.0L744.6 2879.5L746.0 2879.1L747.4 2879.0L748.8 2879.1L750.2 2879.2L751.7 2879.3L753.1 2879.2L754.6 2878.8L756.1 2878.3L757.6 2877.8L759.2 2877.6L760.7 2877.6L762.3 2877.8L763.9 2877.9L765.5 2877.7L767.1 2877.3L768.6 2876.7L770.2 2876.3L771.8 2876.2L773.4 2876.3L774.9 2876.5L776.4 2876.5L777.9 2876.3L779.4 2875.8L780.8 2875.4L782.2 2875.0L783.5 2874.9L784.8 2875.0L786.1 2875.1L787.3 2875.3L788.4 2875.3L789.5 2875.2L791.1 2874.8L792.6 2874.4L793.9 2874.0L795.2 2873.9L796.4 2873.9L797.6 2874.1L798.8 2874.4L800.1 2874.7L801.5 2874.8L802.7 2874.9L804.0 2874.9L805.2 2875.0L806.5 2875.2L807.8 2875.7L809.2 2876.4L810.5 2877.2L811.9 2878.0L813.3 2878.6L814.7 2878.9L816.1 2879.0L817.5 2879.1L819.0 2879.2L820.4 2879.5L821.7 2879.9L823.1 2880.4L824.5 2880.7L825.9 2880.7L827.3 2880.5L828.7 2880.2L830.2 2879.9L831.6 2879.8L833.1 2879.9L834.5 2880.1L836.0 2880.3L837.4 2880.2L838.9 2879.9L840.3 2879.4L841.7 2878.9L843.1 2878.4L844.4 2878.2L845.8 2878.1L847.3 2878.0L848.7 2877.7L850.1 2877.2L851.5 2876.4L852.9 2875.4L854.3 2874.5L855.6 2873.8L857.0 2873.3L858.3 2872.9L859.7 2872.6L861.0 2872.1L862.4 2871.5L863.7 2870.7L865.0 2869.9L866.4 2869.1L867.7 2868.6L869.0 2868.2L870.3 2868.0L871.6 2867.8L872.8 2867.6L874.1 2867.2L875.4 2866.6L876.7 2865.9L878.0 2865.2L879.4 2864.7L880.8 2864.5L882.2 2864.4L883.5 2864.4L884.8 2864.4L886.1 2864.2L887.5 2863.8L888.8 2863.3L890.2 2862.8L891.6 2862.5L893.0 2862.4L894.4 2862.5L895.9 2862.7L897.3 2862.7L898.8 2862.5L900.2 2862.1L901.7 2861.6L903.2 2861.3L904.7 2861.2L906.2 2861.3L907.6 2861.4L909.0 2861.5L910.4 2861.4L911.8 2861.1L913.2 2860.6L914.7 2860.2L916.1 2860.0L917.6 2860.0L919.1 2860.2L920.6 2860.4L922.0 2860.4L923.5 2860.2L925.0 2859.7L926.5 2859.3L928.0 2859.1L929.5 2859.1L931.0 2859.3L932.6 2859.6L934.1 2859.6L935.6 2859.4L937.1 2859.0L938.6 2858.6L940.0 2858.4L941.5 2858.5L943.0 2858.7L944.6 2859.0L946.1 2859.1L947.6 2858.9L949.2 2858.6L950.7 2858.2L952.3 2858.1L953.8 2858.2L955.3 2858.5L956.9 2858.8L958.4 2858.9L959.9 2858.7L961.4 2858.3L962.9 2858.0L964.4 2857.9L965.9 2858.0L967.3 2858.3L968.7 2858.6L970.1 2858.8L971.5 2858.7L973.0 2858.4L974.5 2858.0L976.0 2857.8L977.5 2857.9L979.0 2858.1L980.5 2858.5L981.9 2858.7L983.3 2858.6L984.7 2858.4L986.1 2858.1L987.5 2857.9L988.9 2857.8L990.2 2858.0L991.6 2858.4L992.9 2858.7L994.2 2859.0L995.5 2859.0L997.0 2858.9L998.6 2858.7L1000.1 2858.7L1001.5 2858.9L1003.0 2859.4L1004.4 2860.0L1005.8 2860.5L1007.2 2860.7L1008.6 2860.7L1010.0 2860.6L1011.3 2860.5L1012.7 2860.6L1014.1 2860.8L1015.5 2861.2L1016.9 2861.7L1018.3 2861.9L1019.7 2862.0L1021.0 2861.8L1022.4 2861.5L1023.7 2861.3L1025.0 2861.1L1026.4 2861.1L1027.8 2861.2L1029.2 2861.1L1030.5 2860.9L1031.9 2860.5L1033.3 2859.7L1034.7 2858.9L1036.0 2858.2L1037.4 2857.6L1038.8 2857.2L1040.2 2856.9L1041.4 2856.6L1042.7 2856.1L1043.9 2855.4L1045.2 2854.5L1046.5 2853.5L1047.8 2852.5L1049.0 2851.7L1050.3 2851.1L1051.6 2850.6L1052.8 2850.2L1054.1 2849.7L1055.3 2849.0L1056.5 2848.2L1057.8 2847.3L1059.1 2846.3L1060.4 2845.4L1061.6 2844.6L1062.9 2844.1L1064.1 2843.7L1065.4 2843.3L1066.6 2842.8L1067.8 2842.1L1069.0 2841.4L1070.2 2840.5L1071.5 2839.6L1072.7 2838.8L1074.0 2838.3L1075.2 2837.9L1076.5 2837.6L1077.7 2837.3L1078.9 2837.0L1080.0 2836.4L1081.2 2835.7L1082.5 2834.9L1083.7 2833.9L1084.9 2833.1L1086.1 2832.6L1087.3 2832.2L1088.4 2832.2L1089.5 2832.3L1090.9 2832.6L1092.3 2833.0L1093.6 2833.5L1094.9 2834.1L1095.8 2834.8L1096.7 2836.0L1097.6 2837.4L1098.5 2838.9L1099.4 2840.2L1100.2 2841.3L1101.0 2841.7L1101.7 2841.5L1102.4 2840.6L1103.0 2839.3L1103.6 2837.8L1104.2 2836.3L1105.0 2834.8L1105.9 2833.7L1107.1 2832.8L1108.4 2832.2L1109.8 2831.8L1111.3 2831.9L1112.8 2832.1L1114.2 2832.3L1115.6 2832.5L1117.0 2832.6L1118.3 2832.7L1119.7 2832.6L1121.1 2832.5L1122.4 2832.4L1123.5 2832.1L1124.6 2831.5L1125.7 2830.7L1126.8 2829.7L1127.9 2828.7L1129.0 2827.7L1130.1 2826.9L1131.2 2826.4L1132.3 2826.3L1133.4 2826.7L1134.6 2827.5L1135.7 2828.5L1136.9 2829.8L1138.0 2831.2L1139.2 2832.5L1140.4 2833.6L1141.6 2834.5L1142.7 2835.1L1143.8 2835.7L1144.9 2836.4L1146.0 2837.3L1147.1 2838.3L1148.2 2839.5L1149.3 2840.7L1150.5 2841.9L1151.7 2843.0L1152.9 2844.0L1154.1 2844.8L1155.4 2845.6L1156.4 2846.2L1157.5 2847.0L1158.6 2847.9L1159.7 2849.0L1160.8 2850.1L1162.0 2851.3L1163.1 2852.5L1164.3 2853.5L1165.5 2854.3L1166.7 2855.0L1167.9 2855.7L1169.1 2856.5L1170.3 2857.5L1171.5 2858.6L1172.7 2859.8L1173.9 2861.1L1175.1 2862.3L1176.2 2863.3L1177.4 2864.1L1178.5 2864.8L1179.6 2865.5L1180.7 2866.2L1181.9 2867.0L1183.0 2868.0L1184.1 2869.0L1185.3 2870.2L1186.4 2871.4L1187.5 2872.4L1188.6 2873.3L1189.8 2874.1L1190.9 2874.8L1192.0 2875.5L1193.1 2876.2L1194.1 2877.1L1195.2 2878.1L1196.3 2879.2L1197.3 2880.4L1198.3 2881.6L1199.3 2882.7L1200.4 2883.8L1201.4 2884.9L1202.5 2885.8L1203.5 2886.7L1204.5 2887.7L1205.5 2888.7L1206.5 2889.9L1207.5 2891.1L1208.5 2892.5L1209.4 2893.8L1210.4 2895.2L1211.3 2896.5L1212.2 2897.7L1213.1 2898.8L1214.0 2899.7L1214.9 2900.6L1215.8 2901.4L1216.8 2902.3L1217.8 2903.3L1218.7 2904.4L1219.7 2905.6L1220.6 2906.8L1221.5 2908.1L1222.4 2909.3L1223.3 2910.5L1224.2 2911.5L1225.0 2912.5L1225.9 2913.3L1226.8 2914.0L1227.8 2914.8L1228.9 2915.6L1229.8 2916.5L1230.8 2917.4L1231.8 2918.4L1232.9 2919.4L1233.9 2920.3L1235.1 2921.0L1236.3 2921.5L1237.7 2921.7L1239.0 2921.6L1240.4 2921.3L1241.9 2921.0L1243.3 2920.9L1244.7 2920.8L1246.0 2920.8L1247.3 2920.6L1248.5 2920.2L1249.8 2919.4L1251.0 2918.4L1252.2 2917.4L1253.4 2916.3L1254.6 2915.3L1255.8 2914.5L1257.0 2913.7L1258.0 2913.0L1259.1 2912.2L1260.1 2911.2L1261.1 2910.2L1262.0 2909.1L1263.0 2908.0L1264.0 2906.9L1265.0 2905.8L1266.0 2904.7L1267.0 2903.8L1268.0 2902.9L1269.1 2901.9L1270.1 2901.0L1271.2 2900.0L1272.3 2899.1L1273.4 2898.3L1274.4 2897.4L1275.5 2896.4L1276.7 2895.4L1277.8 2894.5L1279.0 2893.7L1280.3 2893.1L1281.6 2892.7L1283.0 2892.5L1284.4 2892.3L1285.8 2891.8L1287.2 2891.1L1288.6 2890.2L1290.0 2889.3L1291.4 2889.0L1292.8 2889.2L1294.1 2889.8L1295.5 2890.4L1296.8 2890.8L1298.2 2890.7L1299.5 2890.4L1300.9 2889.9L1302.3 2889.6L1303.7 2889.6L1305.0 2890.1L1306.4 2890.7L1307.8 2891.3L1309.2 2891.5L1310.6 2891.3L1312.0 2890.7L1313.4 2890.2L1314.7 2889.9L1316.1 2890.0L1317.5 2890.7L1318.9 2891.5L1320.2 2892.2L1321.5 2892.7L1322.9 2892.7L1324.2 2892.5L1325.6 2892.2L1326.9 2892.3L1328.3 2892.7L1329.7 2893.5L1331.2 2894.5L1332.6 2895.2L1334.0 2895.4L1335.4 2895.2L1336.9 2894.7L1338.4 2894.3L1339.9 2894.4L1341.4 2895.0L1342.9 2895.8L1344.4 2896.6L1345.9 2896.9L1347.4 2896.7L1348.9 2896.3L1350.4 2896.0L1351.8 2896.2L1353.2 2896.9L1354.6 2897.8L1355.9 2898.8L1357.3 2899.5L1358.7 2899.8L1360.1 2899.7L1361.4 2899.5L1362.8 2899.5L1364.2 2899.8L1365.6 2900.7L1366.9 2901.7L1368.3 2902.6L1369.7 2903.2L1371.1 2903.3L1372.4 2903.1L1373.8 2902.8L1375.2 2902.8L1376.6 2903.2L1377.9 2904.0L1379.3 2904.9L1380.7 2905.7L1382.0 2906.2L1383.4 2906.2L1384.8 2905.9L1386.2 2905.7L1387.5 2905.8L1388.9 2906.2L1390.3 2907.1L1391.7 2908.1L1393.0 2909.0L1394.4 2909.4L1395.8 2909.4L1397.2 2909.2L1398.6 2909.0L1400.0 2909.2L1401.4 2909.9L1402.7 2910.8L1404.1 2911.8L1405.4 2912.6L1406.8 2912.9L1408.1 2912.9L1409.5 2912.7L1410.9 2912.6L1412.2 2912.8L1413.5 2913.4L1414.8 2914.4L1416.1 2915.3L1417.4 2916.1L1418.7 2916.5L1420.1 2916.5L1421.5 2916.3L1423.0 2916.2L1424.6 2916.5L1425.8 2917.2L1427.0 2918.1L1428.3 2919.0L1429.6 2919.7L1430.9 2920.1L1432.2 2920.1L1433.6 2919.8L1435.0 2919.7L1436.4 2920.0L1437.9 2920.7L1439.3 2921.7L1440.8 2922.8L1442.2 2923.5L1443.7 2923.6L1445.2 2923.5L1446.7 2923.2L1448.2 2923.4L1449.7 2924.0L1451.2 2925.1L1452.7 2926.1L1454.2 2926.9L1455.6 2927.1L1457.1 2926.9L1458.5 2926.7L1459.9 2926.7L1461.3 2927.2L1462.7 2928.0L1464.1 2929.0L1465.5 2929.9L1466.9 2930.4L1468.3 2930.4L1469.7 2930.2L1471.2 2930.0L1472.6 2930.2L1474.0 2930.9L1475.5 2931.9L1476.9 2932.9L1478.4 2933.6L1479.8 2933.8L1481.2 2933.6L1482.7 2933.3L1484.1 2933.3L1485.6 2933.8L1487.0 2934.7L1488.5 2935.7L1489.9 2936.5L1491.3 2936.9L1492.8 2936.8L1494.2 2936.6L1495.6 2936.4L1497.0 2936.6L1498.5 2937.3L1499.9 2938.3L1501.3 2939.3L1502.7 2939.9L1504.2 2940.0L1505.6 2939.8L1507.0 2939.5L1508.4 2939.5L1509.9 2940.0L1511.3 2940.9L1512.7 2941.9L1514.1 2942.7L1515.6 2943.0L1517.0 2942.9L1518.4 2942.6L1519.9 2942.4L1521.3 2942.6L1522.7 2943.2L1524.1 2944.2L1525.6 2945.0L1527.0 2945.5L1528.4 2945.5L1529.9 2945.2L1531.3 2944.8L1532.8 2944.8L1534.3 2945.2L1535.8 2946.0L1537.3 2946.9L1538.8 2947.5L1540.4 2947.5L1541.9 2947.0L1543.5 2946.6L1545.0 2946.5L1546.6 2946.9L1548.1 2947.7L1549.6 2948.5L1551.2 2948.9L1552.7 2948.8L1554.2 2948.3L1555.7 2947.8L1557.2 2947.7L1558.7 2948.1L1560.1 2948.8L1561.6 2949.5L1563.0 2950.0L1564.4 2949.9L1565.7 2949.5L1567.1 2949.0L1568.4 2948.6L1570.0 2948.6L1571.6 2949.2L1573.1 2950.0L1574.6 2950.5L1576.1 2950.5L1577.5 2950.1L1579.0 2949.5L1580.4 2949.0L1581.8 2948.9L1583.2 2949.2L1584.6 2949.8L1586.1 2950.3L1587.5 2950.5L1589.0 2950.1L1590.6 2949.3L1592.0 2948.7L1593.4 2948.3L1594.8 2948.4L1596.2 2948.8L1597.7 2949.3L1599.1 2949.5L1600.6 2949.3L1602.0 2948.6L1603.5 2947.7L1605.0 2947.1L1606.5 2946.9L1608.0 2947.2L1609.5 2947.7L1611.0 2947.9L1612.6 2947.6L1614.1 2946.8L1615.6 2945.8L1617.2 2945.1L1618.7 2944.9L1620.3 2945.2L1621.7 2945.5L1623.0 2945.7L1624.4 2945.4L1625.8 2944.6L1627.2 2943.7L1628.6 2942.8L1630.0 2942.3L1631.4 2942.2L1632.9 2942.5L1634.3 2942.7L1635.7 2942.6L1637.2 2942.0L1638.6 2941.0L1640.1 2940.0L1641.5 2939.2L1643.0 2938.9L1644.4 2939.1L1645.9 2939.3L1647.3 2939.3L1648.8 2938.9L1650.2 2938.0L1651.7 2937.0L1653.1 2936.1L1654.5 2935.6L1656.0 2935.6L1657.4 2935.9L1658.8 2936.0L1660.3 2935.8L1661.7 2935.2L1663.1 2934.2L1664.5 2933.2L1666.0 2932.5L1667.4 2932.3L1668.8 2932.5L1670.2 2932.7L1671.7 2932.7L1673.1 2932.2L1674.5 2931.4L1675.9 2930.3L1677.4 2929.5L1678.8 2929.0L1680.2 2929.1L1681.7 2929.3L1683.1 2929.5L1684.5 2929.2L1685.9 2928.5L1687.4 2927.5L1688.8 2926.6L1690.2 2925.9L1691.6 2925.8L1693.1 2926.0L1694.5 2926.2L1695.9 2926.2L1697.4 2925.7L1698.8 2924.9L1700.2 2923.8L1701.7 2923.0L1703.1 2922.7L1704.6 2922.7L1706.0 2923.0L1707.5 2923.2L1709.0 2922.9L1710.4 2922.1L1711.9 2921.1L1713.3 2920.2L1714.8 2919.7L1716.2 2919.7L1717.6 2919.9L1719.1 2920.2L1720.5 2920.1L1721.9 2919.5L1723.3 2918.6L1724.7 2917.6L1726.1 2916.9L1727.5 2916.6L1728.9 2916.7L1730.2 2917.0L1731.6 2917.2L1733.1 2916.9L1734.5 2916.1L1736.0 2915.1L1737.4 2914.2L1738.9 2913.6L1740.3 2913.5L1741.7 2913.7L1743.1 2914.0L1744.5 2913.9L1745.9 2913.4L1747.3 2912.5L1748.7 2911.5L1750.0 2910.7L1751.4 2910.4L1752.8 2910.4L1754.2 2910.7L1755.6 2910.9L1757.0 2910.8L1758.4 2910.2L1759.8 2909.3L1761.2 2908.4L1762.6 2907.8L1764.0 2907.7L1765.5 2908.0L1766.9 2908.4L1768.3 2908.6L1769.8 2908.3L1771.2 2907.6L1772.7 2906.7L1774.1 2906.0L1775.6 2905.8L1777.0 2906.0L1778.4 2906.5L1779.9 2906.8L1781.3 2906.8L1782.7 2906.3L1784.1 2905.5L1785.5 2904.7L1786.9 2904.3L1788.2 2904.2L1789.6 2904.5L1790.9 2905.0L1792.4 2905.2L1793.8 2905.1L1795.3 2904.5L1796.7 2903.7L1798.1 2903.0L1799.5 2902.8L1800.9 2903.0L1802.3 2903.5L1803.7 2903.9L1805.0 2904.0L1806.4 2903.7L1807.8 2903.0L1809.1 2902.1L1810.5 2901.4L1811.8 2901.1L1813.2 2901.1L1814.5 2901.3L1815.9 2901.4L1817.2 2901.3L1818.5 2900.6L1819.9 2899.6L1821.2 2898.5L1822.5 2897.5L1823.8 2896.8L1825.2 2896.6L1826.5 2896.6L1827.8 2896.5L1829.1 2896.2L1830.4 2895.5L1831.6 2894.5L1832.9 2893.3L1834.2 2892.2L1835.4 2891.4L1836.7 2890.9L1838.0 2890.7L1839.2 2890.6L1840.5 2890.3L1841.7 2889.7L1842.9 2888.7L1844.2 2887.5L1845.4 2886.2L1846.6 2885.1L1847.8 2884.3L1849.0 2883.8L1850.2 2883.7L1851.5 2883.7L1852.7 2883.6L1854.0 2883.2L1855.4 2882.4L1856.8 2881.5L1858.2 2880.6L1859.7 2880.1L1861.1 2880.2L1862.6 2880.6L1864.0 2881.1L1865.4 2881.3L1866.9 2881.0L1868.3 2880.3L1869.7 2879.5L1871.1 2878.8L1872.5 2878.5L1873.9 2878.5L1875.4 2878.6L1876.8 2878.5L1878.2 2877.9L1879.6 2876.9L1881.0 2875.6L1882.4 2874.3L1883.8 2873.4L1885.2 2873.1L1886.5 2873.1L1887.9 2873.4L1889.2 2873.5L1890.7 2873.4L1892.3 2872.9L1893.8 2872.3L1895.4 2872.0L1896.9 2872.3L1898.3 2873.1L1899.7 2874.1L1901.0 2874.9L1902.2 2875.4L1903.5 2875.8L1904.6 2876.1L1905.7 2876.4L1906.7 2876.6L1907.8 2876.6L1908.8 2876.3L1909.8 2875.8L1910.8 2875.2L1911.8 2874.6L1912.9 2874.2L1914.1 2873.9L1915.3 2873.7L1916.6 2873.3L1918.0 2872.9L1919.4 2872.8L1920.9 2873.2L1922.3 2874.2L1923.8 2875.5L1925.1 2876.6L1926.3 2877.3L1927.5 2877.8L1928.6 2878.3L1929.7 2878.7L1930.7 2879.2L1931.7 2879.8L1932.7 2880.6L1933.7 2881.3L1935.0 2882.2L1936.2 2882.9L1937.5 2883.3L1938.8 2883.4L1940.0 2883.4L1941.3 2883.4L1942.5 2883.7L1943.7 2884.2L1944.9 2884.9L1946.1 2885.6L1947.5 2886.1L1948.8 2886.3L1950.2 2886.7L1951.1 2887.2L1952.1 2887.8L1953.1 2888.6L1954.2 2889.4L1955.3 2890.5L1956.4 2891.7L1957.4 2893.0L1958.4 2894.3L1959.3 2895.3L1960.7 2896.2L1962.1 2896.4L1963.4 2896.6L1964.2 2897.1L1964.9 2897.7L1965.6 2898.5L1966.3 2899.5L1967.0 2900.5L1967.7 2901.5L1968.5 2902.6L1969.3 2903.7L1970.3 2904.9L1971.3 2906.2L1972.3 2907.7L1973.2 2909.0L1974.1 2910.2L1974.9 2911.2L1975.6 2912.1L1976.1 2913.2L1976.5 2914.4L1976.7 2915.7L1976.9 2916.9L1977.2 2918.0L1977.7 2918.8L1978.5 2919.4L1979.5 2919.9L1980.6 2920.5L1981.7 2921.2L1982.9 2921.9L1984.2 2922.4L1985.6 2922.8L1986.8 2923.1L1987.9 2923.8L1988.9 2924.7L1989.9 2925.4L1990.9 2925.7L1991.9 2925.1L1992.9 2924.0L1993.9 2922.8L1995.0 2922.2L1996.2 2922.1L1997.6 2922.1L1998.9 2922.3L2000.1 2922.9L2000.8 2923.7L2001.4 2924.7L2001.9 2926.0L2002.3 2927.5L2002.7 2929.0L2003.1 2930.5L2003.6 2931.9L2004.1 2933.1L2004.9 2934.5L2005.6 2935.8L2006.5 2937.1L2007.3 2938.2L2008.2 2939.2L2009.2 2940.0L2010.3 2940.6L2011.3 2941.2L2012.3 2942.2L2012.9 2943.1L2013.4 2944.3L2013.9 2945.5L2014.4 2946.9L2014.8 2948.3L2015.2 2949.9L2015.6 2951.4L2016.0 2952.9L2016.4 2954.4L2016.7 2955.7L2017.1 2957.1L2017.4 2958.5L2017.6 2960.0L2017.9 2961.5L2018.2 2962.9L2018.5 2964.4L2018.8 2965.8L2019.1 2967.2L2019.5 2968.5L2019.9 2969.6L2020.4 2970.7L2021.2 2971.9L2022.0 2972.9L2022.9 2973.8L2023.8 2974.7L2024.7 2975.6L2025.5 2976.8L2026.1 2977.9L2026.6 2979.1L2027.1 2980.5L2027.6 2981.9L2028.1 2983.4L2028.6 2984.8L2029.0 2986.3L2029.4 2987.7L2029.8 2989.0L2030.2 2990.1L2030.6 2991.1L2031.2 2992.5L2031.8 2993.6L2032.4 2995.0L2032.7 2996.0L2033.1 2997.1L2033.4 2998.3L2033.8 2999.6L2034.2 3001.0L2034.5 3002.5L2034.9 3004.1L2035.3 3005.7L2035.7 3007.3L2036.0 3008.9L2036.4 3010.6L2036.8 3012.2L2037.1 3013.8L2037.4 3015.2L2037.7 3016.5L2037.9 3017.9L2038.2 3019.4L2038.5 3020.8L2038.7 3022.3L2039.0 3023.7L2039.2 3025.2L2039.5 3026.7L2039.8 3028.2L2040.0 3029.7L2040.3 3031.2L2040.5 3032.7L2040.8 3034.2L2041.0 3035.7L2041.3 3037.2L2041.5 3038.7L2041.8 3040.2L2042.1 3041.7L2042.3 3043.1L2042.6 3044.5L2042.9 3046.0L2043.1 3047.4L2043.4 3048.8L2043.7 3050.3L2044.0 3051.7L2044.2 3053.1L2044.5 3054.6L2044.8 3056.0L2045.0 3057.5L2045.3 3058.9L2045.5 3060.4L2045.8 3061.9L2046.0 3063.4L2046.3 3065.0L2046.5 3066.5L2046.7 3067.9L2046.9 3069.3L2047.1 3070.7L2047.3 3072.1L2047.4 3073.6L2047.6 3075.1L2047.8 3076.5L2047.9 3078.0L2048.1 3079.5L2048.3 3081.0L2048.4 3082.5L2048.6 3084.0L2048.7 3085.5L2048.9 3087.0L2049.0 3088.5L2049.2 3090.0L2049.3 3091.5L2049.5 3093.0L2049.6 3094.5L2049.8 3096.0L2049.9 3097.4L2050.1 3098.9L2050.2 3100.3L2050.4 3101.8L2050.5 3103.2L2050.7 3104.7L2050.8 3106.1L2050.9 3107.5L2051.1 3108.9L2051.2 3110.3L2051.4 3111.7L2051.5 3113.1L2051.7 3114.5L2051.8 3115.9L2051.9 3117.4L2052.1 3118.8L2052.2 3120.2L2052.3 3121.6L2052.5 3123.0L2052.6 3124.5L2052.7 3125.9L2052.9 3127.4L2053.0 3128.9L2053.1 3130.4L2053.2 3131.8L2053.3 3133.1L2053.4 3134.5L2053.5 3135.9L2053.6 3137.3L2053.7 3138.7L2053.8 3140.1L2053.9 3141.5L2054.0 3142.9L2054.1 3144.4L2054.2 3145.8L2054.3 3147.2L2054.4 3148.7L2054.5 3150.1L2054.6 3151.6L2054.6 3153.0L2054.7 3154.5L2054.8 3156.0L2054.9 3157.5L2055.0 3158.9L2055.1 3160.4L2055.2 3161.9L2055.2 3163.4L2055.3 3165.0L2055.4 3166.5L2055.5 3168.0L2055.6 3169.4L2055.7 3170.8L2055.7 3172.2L2055.8 3173.7L2055.9 3175.1L2056.0 3176.6L2056.0 3178.0L2056.1 3179.5L2056.2 3181.0L2056.3 3182.5L2056.3 3184.0L2056.4 3185.5L2056.5 3187.0L2056.6 3188.5L2056.6 3190.0L2056.7 3191.5L2056.8 3193.0L2056.8 3194.5L2056.9 3196.0L2057.0 3197.5L2057.0 3199.0L2057.1 3200.5L2057.2 3202.0L2057.3 3203.5L2057.3 3205.0L2057.4 3206.4L2057.5 3207.9L2057.5 3209.3L2057.6 3210.8L2057.7 3212.2L2057.7 3213.6L2057.8 3215.0L2057.9 3216.5L2057.9 3218.0L2058.0 3219.5L2058.1 3221.0L2058.2 3222.5L2058.2 3224.0L2058.3 3225.4L2058.4 3226.9L2058.4 3228.3L2058.5 3229.8L2058.6 3231.2L2058.6 3232.6L2058.7 3234.1L2058.8 3235.5L2058.8 3236.9L2058.9 3238.3L2059.0 3239.7L2059.0 3241.2L2059.1 3242.6L2059.2 3244.0L2059.3 3245.4L2059.3 3246.9L2059.4 3248.3L2059.5 3249.7L2059.5 3251.2L2059.6 3252.6L2059.7 3254.0L2059.7 3255.5L2059.8 3256.9L2059.9 3258.3L2060.0 3259.8L2060.0 3261.2L2060.1 3262.6L2060.2 3264.0L2060.3 3265.5L2060.3 3266.9L2060.4 3268.3L2060.5 3269.7L2060.6 3271.1L2060.6 3272.6L2060.7 3274.0L2060.8 3275.4L2060.9 3276.9L2060.9 3278.3L2061.0 3279.8L2061.1 3281.2L2061.1 3282.7L2061.2 3284.2L2061.3 3285.7L2061.4 3287.2L2061.4 3288.7L2061.5 3290.2L2061.6 3291.6L2061.6 3293.0L2061.7 3294.4L2061.8 3295.8L2061.8 3297.3L2061.9 3298.7L2061.9 3300.1L2062.0 3301.6L2062.1 3303.0L2062.1 3304.5L2062.2 3306.0L2062.2 3307.4L2062.3 3308.9L2062.4 3310.4L2062.4 3311.9L2062.5 3313.4L2062.5 3314.9L2062.6 3316.4L2062.7 3317.8L2062.7 3319.3L2062.8 3320.8L2062.8 3322.3L2062.9 3323.8L2063.0 3325.3L2063.0 3326.8L2063.1 3328.3L2063.1 3329.8L2063.2 3331.3L2063.2 3332.8L2063.3 3334.3L2063.3 3335.7L2063.4 3337.2L2063.5 3338.7L2063.5 3340.1L2063.6 3341.6L2063.6 3343.1L2063.7 3344.6L2063.7 3346.1L2063.8 3347.6L2063.8 3349.1L2063.9 3350.6L2063.9 3352.1L2064.0 3353.6L2064.0 3355.1L2064.1 3356.5L2064.1 3358.0L2064.2 3359.5L2064.2 3361.0L2064.3 3362.5L2064.3 3364.0L2064.4 3365.5L2064.4 3367.0L2064.4 3368.4L2064.5 3369.9L2064.5 3371.4L2064.6 3372.8L2064.6 3374.3L2064.7 3375.7L2064.7 3377.1L2064.7 3378.6L2064.8 3380.0L2064.8 3381.4L2064.9 3382.8L2064.9 3384.2L2064.9 3385.7L2065.0 3387.2L2065.0 3388.8L2065.1 3390.3L2065.1 3391.8L2065.1 3393.3L2065.2 3394.8L2065.2 3396.3L2065.2 3397.8L2065.3 3399.3L2065.3 3400.7L2065.3 3402.2L2065.4 3403.7L2065.4 3405.1L2065.4 3406.6L2065.5 3408.0L2065.5 3409.4L2065.5 3410.9L2065.6 3412.3L2065.6 3413.7L2065.6 3415.1L2065.6 3416.4L2065.6 3417.8L2065.7 3419.1L2065.7 3420.5L2065.7 3421.8L2065.7 3423.4L2065.7 3424.9L2065.7 3426.5L2065.8 3428.0L2065.8 3429.4L2065.8 3430.9L2065.8 3432.4L2065.8 3433.8L2065.8 3435.2L2065.8 3436.7L2065.8 3438.1L2065.8 3439.5L2065.8 3440.9L2065.8 3442.3L2065.8 3443.8L2065.8 3445.2L2065.8 3446.6L2065.8 3448.1" fill="none" stroke="#f00" stroke-width="3.9" stroke-linejoin="round" shape-rendering="crispEdges"/>
<line x1="380.1" y1="3446.0" x2="380.1" y2="3419.8" stroke="#000" stroke-width="7.6" stroke-linecap="round"/><line x1="1019.1" y1="3446.0" x2="1019.1" y2="3419.8" stroke="#000" stroke-width="7.6" stroke-linecap="round"/><line x1="1658.1" y1="3446.0" x2="1658.1" y2="3419.8" stroke="#000" stroke-width="7.6" stroke-linecap="round"/>
<line x1="699.6" y1="3446.0" x2="699.6" y2="3433.8" stroke="#000" stroke-width="7.6" stroke-linecap="round"/><line x1="1338.6" y1="3446.0" x2="1338.6" y2="3433.8" stroke="#000" stroke-width="7.6" stroke-linecap="round"/><line x1="1977.6" y1="3446.0" x2="1977.6" y2="3433.8" stroke="#000" stroke-width="7.6" stroke-linecap="round"/>
<line x1="1723.5" y1="1238.9" x2="1874.5" y2="1238.9" stroke="#000" stroke-width="4.2" stroke-linecap="round"/><line x1="1723.5" y1="1323.2" x2="1874.5" y2="1323.2" stroke="#f00" stroke-width="4.2" stroke-linecap="round"/>
<line x1="1642.5" y1="3265.5" x2="1794.5" y2="3265.5" stroke="#000" stroke-width="4.2" stroke-linecap="round"/><line x1="1642.5" y1="3351.3" x2="1794.5" y2="3351.3" stroke="#f00" stroke-width="4.2" stroke-linecap="round"/>
<text transform="translate(139.42 1501.00) scale(0.9525 1)" font-size="77.50" fill="#000">4000</text>
<text transform="translate(437.42 1501.00) scale(0.9440 1)" font-size="77.50" fill="#000">3500</text>
<text transform="translate(736.32 1501.00) scale(0.9440 1)" font-size="77.50" fill="#000">3000</text>
<text transform="translate(1032.07 1501.00) scale(0.9535 1)" font-size="77.50" fill="#000">2500</text>
<text transform="translate(1330.75 1501.00) scale(0.9609 1)" font-size="77.50" fill="#000">2000</text>
<text transform="translate(1629.11 1501.00) scale(0.9500 1)" font-size="77.50" fill="#000">1500</text>
<text transform="translate(1929.11 1501.00) scale(0.9500 1)" font-size="77.50" fill="#000">1000</text>
<text transform="translate(304.75 3532.90) scale(0.9616 1)" font-size="77.50" fill="#000">2800</text>
<text transform="translate(944.43 3532.90) scale(0.9650 1)" font-size="77.50" fill="#000">2400</text>
<text transform="translate(1583.05 3532.90) scale(0.9609 1)" font-size="77.50" fill="#000">2000</text>
<text transform="translate(1458.07 347.00) scale(0.9350 1)" font-size="69.30" fill="#000">1722</text>
<text transform="translate(1548.05 482.00) scale(0.9350 1)" font-size="69.30" fill="#000">1627</text>
<text transform="translate(1657.34 402.00) scale(0.9350 1)" font-size="69.30" fill="#000">1400</text>
<text transform="translate(1915.90 418.50) scale(0.9350 1)" font-size="69.30" fill="#000">1065</text>
<text transform="translate(513.79 749.30) scale(0.9743 1)" font-size="69.30" fill="#000">3430</text>
<text transform="translate(559.20 1363.30) scale(0.9736 1)" font-size="69.30" fill="#000">3438</text>
<text transform="translate(1224.12 818.00) scale(0.9555 1)" font-size="69.30" fill="#000">2263</text>
<text transform="translate(1460.08 978.80) scale(0.9350 1)" font-size="69.30" fill="#000">1734</text>
<text transform="translate(1559.78 1074.00) scale(0.9350 1)" font-size="69.30" fill="#000">1634</text>
<text transform="translate(1716.24 957.00) scale(0.9350 1)" font-size="69.30" fill="#000">1400</text>
<text transform="translate(1179.39 2997.50) scale(0.9660 1)" font-size="69.30" fill="#000">2263</text>
<text transform="translate(1892.86 1261.00) scale(1.0186 1)" font-size="67.30" fill="#000">GO</text>
<text transform="translate(1890.27 1345.50) scale(1.0068 1)" font-size="67.30" fill="#000">MGO</text>
<text transform="translate(1812.87 3288.50) scale(1.0131 1)" font-size="67.30" fill="#000">GO</text>
<text transform="translate(1810.27 3373.00) scale(1.0068 1)" font-size="67.30" fill="#000">MGO</text>
<text transform="translate(1948.37 142.00) scale(1.0405 1)" font-size="149.15" fill="#000">a</text>
<text transform="translate(1975.90 2207.50) scale(0.9975 1)" font-size="150.65" fill="#000">b</text>
<text transform="translate(793.10 1654.00) scale(0.9741 1)" font-size="88" x="0 79.96">Wavenumbers (cm<tspan x="662.08" dy="-47" font-size="49">-1</tspan><tspan x="706.69" dy="47">)</tspan></text>
<text transform="translate(791.99 3688.00) scale(0.9769 1)" font-size="88" x="0 80.87">Wavenumbers (cm<tspan x="662.78" dy="-47.7" font-size="49">-1</tspan><tspan x="707.43" dy="47.7">)</tspan></text>
<text transform="translate(81.00 1037.75) rotate(-90) scale(0.9913 1)" font-size="88">% transmittance</text>
<text transform="translate(78.60 3063.07) rotate(-90) scale(0.9973 1)" font-size="88">% transmittance</text>
</svg></body></html>
